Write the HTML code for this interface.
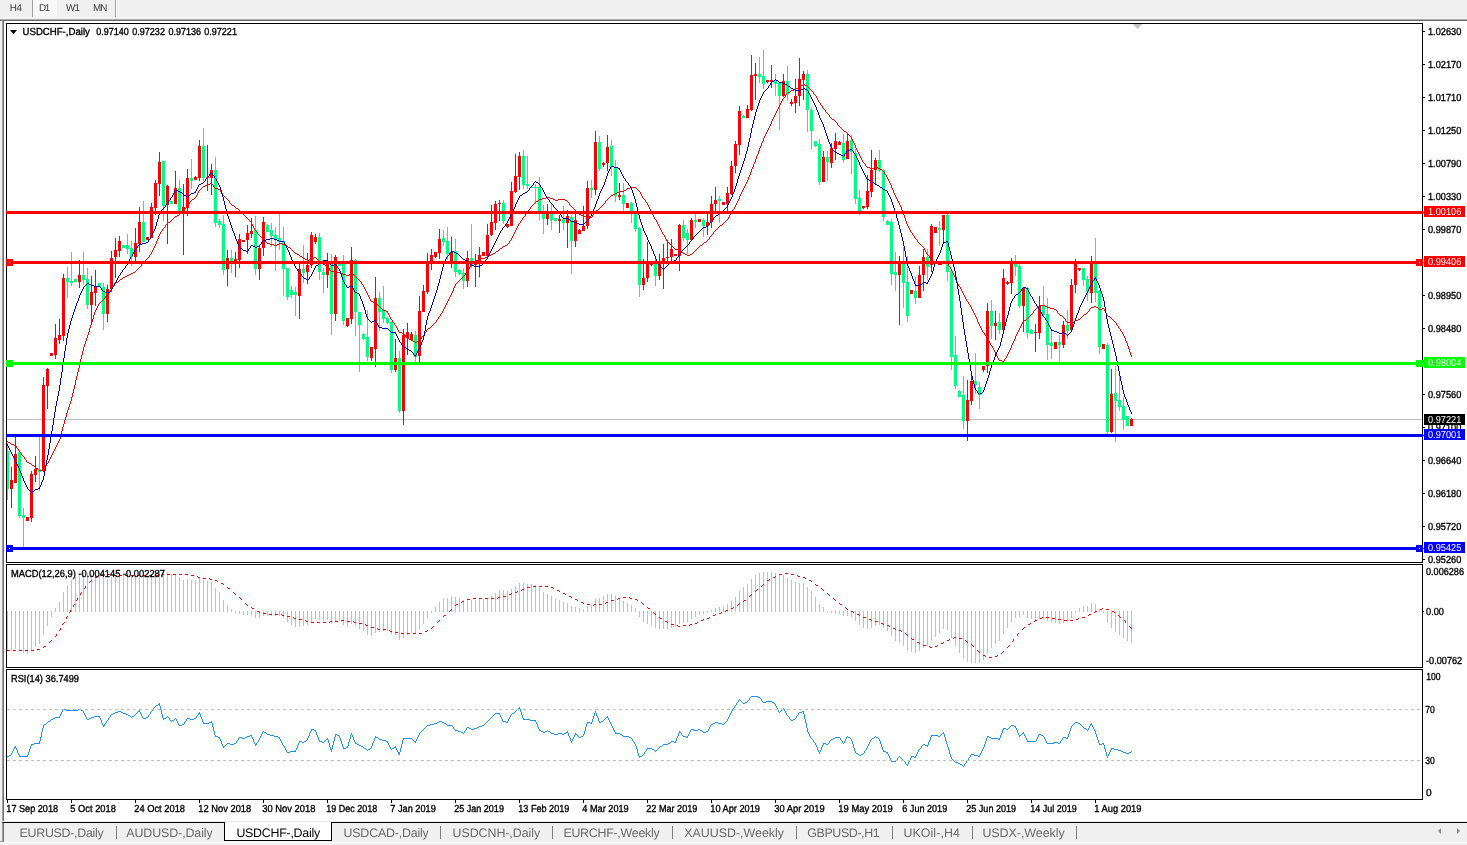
<!DOCTYPE html>
<html lang="en"><head><meta charset="utf-8"><title>USDCHF-,Daily</title>
<style>
html,body{margin:0;padding:0;background:#fff;}
body{width:1467px;height:845px;overflow:hidden;position:relative;font-family:"Liberation Sans","DejaVu Sans",sans-serif;}
#toolbar{position:absolute;left:0;top:0;width:1467px;height:18px;background:#f0f0f0;}
#toolbar .tf{position:absolute;top:1px;height:18px;line-height:15px;font-size:9.9px;color:#3c3c3c;white-space:nowrap;}
#toolbar .sel{position:absolute;left:33px;top:0;width:24px;height:17px;background:#f8f8f8;}
#toolbar .sep{position:absolute;top:0;width:1px;height:17px;background:#a0a0a0;}
#chart{position:absolute;left:0;top:0;width:1467px;height:845px;}
#tabs{position:absolute;left:0;top:823px;width:1467px;height:22px;background:#f0f0f0;}
#tabs .tab{position:absolute;top:1px;height:19px;line-height:19px;font-size:12.4px;color:#6a6a6a;white-space:nowrap;}
#tabs .tab.active{color:#000;background:#fff;border:1px solid #000;border-top:none;box-sizing:border-box;top:-1px;height:19px;}
#tabs .bar{position:absolute;top:3px;width:1px;height:13px;background:#808080;}
svg text{font-family:"Liberation Sans","DejaVu Sans",sans-serif;text-rendering:geometricPrecision;}
#toolbar .tf,#tabs .tab{text-rendering:geometricPrecision;}
</style></head><body>
<svg id="chart" width="1467" height="845" viewBox="0 0 1467 845">
<g shape-rendering="crispEdges">
<rect x="0" y="18" width="1467" height="1" fill="#f6f6f6"/>
<rect x="0" y="19" width="1467" height="1" fill="#a8a8a8"/>
<rect x="0" y="20" width="1467" height="1" fill="#6e6e6e"/>
<rect x="0" y="21" width="2" height="801" fill="#f0f0f0"/>
<rect x="2" y="20" width="1" height="801" fill="#a0a0a0"/>
<rect x="3" y="20" width="1" height="801" fill="#707070"/>
<rect x="0" y="821" width="1467" height="1" fill="#e8e8e8"/>
<rect x="2" y="822" width="1465" height="1" fill="#000"/>
</g>
<g shape-rendering="crispEdges">
<rect x="7" y="419" width="1415" height="1" fill="#c0c0c0"/>
</g>
<g shape-rendering="crispEdges">
<rect x="7" y="443" width="1" height="57" fill="#00ff7f"/>
<rect x="6" y="451" width="3" height="38" fill="#00ff7f"/>
<rect x="11" y="467" width="1" height="41" fill="#ff0000"/>
<rect x="10" y="480" width="3" height="9" fill="#ff0000"/>
<rect x="15" y="437" width="1" height="46" fill="#ff0000"/>
<rect x="14" y="454" width="3" height="29" fill="#ff0000"/>
<rect x="19" y="450" width="1" height="68" fill="#00ff7f"/>
<rect x="18" y="452" width="3" height="64" fill="#00ff7f"/>
<rect x="23" y="508" width="1" height="39" fill="#00ff7f"/>
<rect x="22" y="515" width="3" height="3" fill="#00ff7f"/>
<rect x="27" y="517" width="1" height="4" fill="#ff0000"/>
<rect x="26" y="517" width="3" height="4" fill="#ff0000"/>
<rect x="31" y="471" width="1" height="51" fill="#ff0000"/>
<rect x="30" y="474" width="3" height="44" fill="#ff0000"/>
<rect x="35" y="456" width="1" height="26" fill="#ff0000"/>
<rect x="34" y="469" width="3" height="6" fill="#ff0000"/>
<rect x="39" y="437" width="1" height="54" fill="#00ff7f"/>
<rect x="38" y="469" width="3" height="3" fill="#00ff7f"/>
<rect x="43" y="377" width="1" height="95" fill="#ff0000"/>
<rect x="42" y="385" width="3" height="86" fill="#ff0000"/>
<rect x="47" y="368" width="1" height="41" fill="#ff0000"/>
<rect x="46" y="369" width="3" height="17" fill="#ff0000"/>
<rect x="51" y="353" width="1" height="3" fill="#ff0000"/>
<rect x="50" y="353" width="3" height="3" fill="#ff0000"/>
<rect x="55" y="324" width="1" height="35" fill="#ff0000"/>
<rect x="54" y="338" width="3" height="17" fill="#ff0000"/>
<rect x="59" y="319" width="1" height="25" fill="#ff0000"/>
<rect x="58" y="335" width="3" height="5" fill="#ff0000"/>
<rect x="63" y="274" width="1" height="67" fill="#ff0000"/>
<rect x="62" y="278" width="3" height="58" fill="#ff0000"/>
<rect x="67" y="267" width="1" height="31" fill="#00ff7f"/>
<rect x="66" y="278" width="3" height="4" fill="#00ff7f"/>
<rect x="71" y="252" width="1" height="34" fill="#00ff7f"/>
<rect x="70" y="281" width="3" height="2" fill="#00ff7f"/>
<rect x="75" y="279" width="1" height="3" fill="#00ff7f"/>
<rect x="74" y="279" width="3" height="3" fill="#00ff7f"/>
<rect x="79" y="260" width="1" height="28" fill="#ff0000"/>
<rect x="78" y="275" width="3" height="7" fill="#ff0000"/>
<rect x="83" y="252" width="1" height="33" fill="#00ff7f"/>
<rect x="82" y="275" width="3" height="5" fill="#00ff7f"/>
<rect x="87" y="268" width="1" height="41" fill="#00ff7f"/>
<rect x="86" y="279" width="3" height="26" fill="#00ff7f"/>
<rect x="91" y="276" width="1" height="47" fill="#ff0000"/>
<rect x="90" y="292" width="3" height="13" fill="#ff0000"/>
<rect x="95" y="270" width="1" height="36" fill="#ff0000"/>
<rect x="94" y="287" width="3" height="6" fill="#ff0000"/>
<rect x="99" y="283" width="1" height="4" fill="#00ff7f"/>
<rect x="98" y="283" width="3" height="4" fill="#00ff7f"/>
<rect x="103" y="283" width="1" height="47" fill="#00ff7f"/>
<rect x="102" y="287" width="3" height="27" fill="#00ff7f"/>
<rect x="107" y="285" width="1" height="37" fill="#ff0000"/>
<rect x="106" y="289" width="3" height="25" fill="#ff0000"/>
<rect x="111" y="251" width="1" height="41" fill="#ff0000"/>
<rect x="110" y="258" width="3" height="31" fill="#ff0000"/>
<rect x="115" y="238" width="1" height="40" fill="#ff0000"/>
<rect x="114" y="250" width="3" height="7" fill="#ff0000"/>
<rect x="119" y="236" width="1" height="21" fill="#ff0000"/>
<rect x="118" y="241" width="3" height="10" fill="#ff0000"/>
<rect x="123" y="245" width="1" height="3" fill="#00ff7f"/>
<rect x="122" y="245" width="3" height="3" fill="#00ff7f"/>
<rect x="127" y="234" width="1" height="20" fill="#00ff7f"/>
<rect x="126" y="245" width="3" height="4" fill="#00ff7f"/>
<rect x="131" y="241" width="1" height="25" fill="#00ff7f"/>
<rect x="130" y="248" width="3" height="9" fill="#00ff7f"/>
<rect x="135" y="228" width="1" height="33" fill="#ff0000"/>
<rect x="134" y="243" width="3" height="14" fill="#ff0000"/>
<rect x="139" y="207" width="1" height="45" fill="#ff0000"/>
<rect x="138" y="222" width="3" height="22" fill="#ff0000"/>
<rect x="143" y="201" width="1" height="41" fill="#00ff7f"/>
<rect x="142" y="222" width="3" height="20" fill="#00ff7f"/>
<rect x="147" y="237" width="1" height="3" fill="#ff0000"/>
<rect x="146" y="237" width="3" height="3" fill="#ff0000"/>
<rect x="151" y="203" width="1" height="35" fill="#ff0000"/>
<rect x="150" y="207" width="3" height="31" fill="#ff0000"/>
<rect x="155" y="180" width="1" height="35" fill="#ff0000"/>
<rect x="154" y="183" width="3" height="25" fill="#ff0000"/>
<rect x="159" y="152" width="1" height="44" fill="#ff0000"/>
<rect x="158" y="162" width="3" height="22" fill="#ff0000"/>
<rect x="163" y="161" width="1" height="60" fill="#00ff7f"/>
<rect x="162" y="161" width="3" height="45" fill="#00ff7f"/>
<rect x="167" y="185" width="1" height="59" fill="#ff0000"/>
<rect x="166" y="186" width="3" height="19" fill="#ff0000"/>
<rect x="171" y="201" width="1" height="3" fill="#00ff7f"/>
<rect x="170" y="201" width="3" height="3" fill="#00ff7f"/>
<rect x="175" y="171" width="1" height="33" fill="#ff0000"/>
<rect x="174" y="188" width="3" height="16" fill="#ff0000"/>
<rect x="179" y="180" width="1" height="34" fill="#00ff7f"/>
<rect x="178" y="188" width="3" height="24" fill="#00ff7f"/>
<rect x="183" y="184" width="1" height="71" fill="#ff0000"/>
<rect x="182" y="207" width="3" height="5" fill="#ff0000"/>
<rect x="187" y="169" width="1" height="47" fill="#ff0000"/>
<rect x="186" y="178" width="3" height="30" fill="#ff0000"/>
<rect x="191" y="159" width="1" height="30" fill="#00ff7f"/>
<rect x="190" y="178" width="3" height="3" fill="#00ff7f"/>
<rect x="195" y="176" width="1" height="4" fill="#ff0000"/>
<rect x="194" y="177" width="3" height="3" fill="#ff0000"/>
<rect x="199" y="140" width="1" height="41" fill="#ff0000"/>
<rect x="198" y="146" width="3" height="32" fill="#ff0000"/>
<rect x="203" y="128" width="1" height="53" fill="#00ff7f"/>
<rect x="202" y="146" width="3" height="32" fill="#00ff7f"/>
<rect x="207" y="145" width="1" height="46" fill="#ff0000"/>
<rect x="206" y="177" width="3" height="1" fill="#ff0000"/>
<rect x="211" y="164" width="1" height="31" fill="#ff0000"/>
<rect x="210" y="170" width="3" height="8" fill="#ff0000"/>
<rect x="215" y="157" width="1" height="70" fill="#00ff7f"/>
<rect x="214" y="170" width="3" height="53" fill="#00ff7f"/>
<rect x="219" y="219" width="1" height="9" fill="#00ff7f"/>
<rect x="218" y="221" width="3" height="4" fill="#00ff7f"/>
<rect x="223" y="215" width="1" height="60" fill="#00ff7f"/>
<rect x="222" y="224" width="3" height="46" fill="#00ff7f"/>
<rect x="227" y="250" width="1" height="36" fill="#ff0000"/>
<rect x="226" y="258" width="3" height="11" fill="#ff0000"/>
<rect x="231" y="250" width="1" height="23" fill="#00ff7f"/>
<rect x="230" y="258" width="3" height="3" fill="#00ff7f"/>
<rect x="235" y="252" width="1" height="25" fill="#ff0000"/>
<rect x="234" y="259" width="3" height="3" fill="#ff0000"/>
<rect x="239" y="234" width="1" height="34" fill="#ff0000"/>
<rect x="238" y="239" width="3" height="21" fill="#ff0000"/>
<rect x="243" y="240" width="1" height="2" fill="#ff0000"/>
<rect x="242" y="240" width="3" height="2" fill="#ff0000"/>
<rect x="247" y="225" width="1" height="29" fill="#ff0000"/>
<rect x="246" y="233" width="3" height="7" fill="#ff0000"/>
<rect x="251" y="218" width="1" height="20" fill="#ff0000"/>
<rect x="250" y="231" width="3" height="3" fill="#ff0000"/>
<rect x="255" y="216" width="1" height="59" fill="#00ff7f"/>
<rect x="254" y="230" width="3" height="39" fill="#00ff7f"/>
<rect x="259" y="246" width="1" height="34" fill="#ff0000"/>
<rect x="258" y="248" width="3" height="21" fill="#ff0000"/>
<rect x="263" y="217" width="1" height="39" fill="#ff0000"/>
<rect x="262" y="222" width="3" height="26" fill="#ff0000"/>
<rect x="267" y="224" width="1" height="8" fill="#00ff7f"/>
<rect x="266" y="225" width="3" height="7" fill="#00ff7f"/>
<rect x="271" y="223" width="1" height="24" fill="#00ff7f"/>
<rect x="270" y="230" width="3" height="6" fill="#00ff7f"/>
<rect x="275" y="227" width="1" height="44" fill="#00ff7f"/>
<rect x="274" y="235" width="3" height="5" fill="#00ff7f"/>
<rect x="279" y="214" width="1" height="36" fill="#00ff7f"/>
<rect x="278" y="238" width="3" height="4" fill="#00ff7f"/>
<rect x="283" y="227" width="1" height="69" fill="#00ff7f"/>
<rect x="282" y="241" width="3" height="28" fill="#00ff7f"/>
<rect x="287" y="268" width="1" height="32" fill="#00ff7f"/>
<rect x="286" y="268" width="3" height="29" fill="#00ff7f"/>
<rect x="291" y="286" width="1" height="12" fill="#00ff7f"/>
<rect x="290" y="290" width="3" height="5" fill="#00ff7f"/>
<rect x="295" y="287" width="1" height="29" fill="#00ff7f"/>
<rect x="294" y="292" width="3" height="3" fill="#00ff7f"/>
<rect x="299" y="264" width="1" height="55" fill="#ff0000"/>
<rect x="298" y="269" width="3" height="27" fill="#ff0000"/>
<rect x="303" y="245" width="1" height="38" fill="#00ff7f"/>
<rect x="302" y="269" width="3" height="4" fill="#00ff7f"/>
<rect x="307" y="253" width="1" height="31" fill="#ff0000"/>
<rect x="306" y="265" width="3" height="7" fill="#ff0000"/>
<rect x="311" y="232" width="1" height="36" fill="#ff0000"/>
<rect x="310" y="235" width="3" height="30" fill="#ff0000"/>
<rect x="315" y="234" width="1" height="10" fill="#ff0000"/>
<rect x="314" y="237" width="3" height="5" fill="#ff0000"/>
<rect x="319" y="233" width="1" height="47" fill="#00ff7f"/>
<rect x="318" y="237" width="3" height="35" fill="#00ff7f"/>
<rect x="323" y="268" width="1" height="25" fill="#00ff7f"/>
<rect x="322" y="272" width="3" height="3" fill="#00ff7f"/>
<rect x="327" y="253" width="1" height="35" fill="#ff0000"/>
<rect x="326" y="263" width="3" height="12" fill="#ff0000"/>
<rect x="331" y="254" width="1" height="81" fill="#00ff7f"/>
<rect x="330" y="263" width="3" height="51" fill="#00ff7f"/>
<rect x="335" y="255" width="1" height="66" fill="#ff0000"/>
<rect x="334" y="257" width="3" height="57" fill="#ff0000"/>
<rect x="339" y="262" width="1" height="4" fill="#00ff7f"/>
<rect x="338" y="263" width="3" height="3" fill="#00ff7f"/>
<rect x="343" y="255" width="1" height="70" fill="#00ff7f"/>
<rect x="342" y="263" width="3" height="58" fill="#00ff7f"/>
<rect x="347" y="318" width="1" height="9" fill="#ff0000"/>
<rect x="346" y="318" width="3" height="8" fill="#ff0000"/>
<rect x="351" y="247" width="1" height="77" fill="#ff0000"/>
<rect x="350" y="260" width="3" height="59" fill="#ff0000"/>
<rect x="355" y="259" width="1" height="77" fill="#00ff7f"/>
<rect x="354" y="260" width="3" height="52" fill="#00ff7f"/>
<rect x="359" y="312" width="1" height="60" fill="#00ff7f"/>
<rect x="358" y="312" width="3" height="13" fill="#00ff7f"/>
<rect x="363" y="333" width="1" height="7" fill="#00ff7f"/>
<rect x="362" y="334" width="3" height="5" fill="#00ff7f"/>
<rect x="367" y="310" width="1" height="51" fill="#00ff7f"/>
<rect x="366" y="337" width="3" height="20" fill="#00ff7f"/>
<rect x="371" y="347" width="1" height="14" fill="#ff0000"/>
<rect x="370" y="347" width="3" height="11" fill="#ff0000"/>
<rect x="375" y="277" width="1" height="90" fill="#ff0000"/>
<rect x="374" y="298" width="3" height="51" fill="#ff0000"/>
<rect x="379" y="292" width="1" height="39" fill="#00ff7f"/>
<rect x="378" y="298" width="3" height="14" fill="#00ff7f"/>
<rect x="383" y="286" width="1" height="37" fill="#00ff7f"/>
<rect x="382" y="310" width="3" height="9" fill="#00ff7f"/>
<rect x="387" y="317" width="1" height="7" fill="#00ff7f"/>
<rect x="386" y="318" width="3" height="5" fill="#00ff7f"/>
<rect x="391" y="321" width="1" height="52" fill="#00ff7f"/>
<rect x="390" y="322" width="3" height="48" fill="#00ff7f"/>
<rect x="395" y="339" width="1" height="33" fill="#ff0000"/>
<rect x="394" y="358" width="3" height="12" fill="#ff0000"/>
<rect x="399" y="351" width="1" height="62" fill="#00ff7f"/>
<rect x="398" y="358" width="3" height="53" fill="#00ff7f"/>
<rect x="403" y="329" width="1" height="96" fill="#ff0000"/>
<rect x="402" y="335" width="3" height="76" fill="#ff0000"/>
<rect x="407" y="323" width="1" height="32" fill="#ff0000"/>
<rect x="406" y="332" width="3" height="6" fill="#ff0000"/>
<rect x="411" y="332" width="1" height="8" fill="#ff0000"/>
<rect x="410" y="334" width="3" height="6" fill="#ff0000"/>
<rect x="415" y="331" width="1" height="31" fill="#00ff7f"/>
<rect x="414" y="335" width="3" height="22" fill="#00ff7f"/>
<rect x="419" y="296" width="1" height="66" fill="#ff0000"/>
<rect x="418" y="311" width="3" height="45" fill="#ff0000"/>
<rect x="423" y="285" width="1" height="27" fill="#ff0000"/>
<rect x="422" y="291" width="3" height="21" fill="#ff0000"/>
<rect x="427" y="253" width="1" height="41" fill="#ff0000"/>
<rect x="426" y="262" width="3" height="30" fill="#ff0000"/>
<rect x="431" y="249" width="1" height="21" fill="#ff0000"/>
<rect x="430" y="255" width="3" height="7" fill="#ff0000"/>
<rect x="435" y="252" width="1" height="6" fill="#ff0000"/>
<rect x="434" y="252" width="3" height="5" fill="#ff0000"/>
<rect x="439" y="229" width="1" height="30" fill="#ff0000"/>
<rect x="438" y="239" width="3" height="14" fill="#ff0000"/>
<rect x="443" y="230" width="1" height="16" fill="#00ff7f"/>
<rect x="442" y="238" width="3" height="4" fill="#00ff7f"/>
<rect x="447" y="227" width="1" height="33" fill="#00ff7f"/>
<rect x="446" y="241" width="3" height="13" fill="#00ff7f"/>
<rect x="451" y="237" width="1" height="31" fill="#ff0000"/>
<rect x="450" y="252" width="3" height="10" fill="#ff0000"/>
<rect x="455" y="239" width="1" height="38" fill="#00ff7f"/>
<rect x="454" y="251" width="3" height="21" fill="#00ff7f"/>
<rect x="459" y="269" width="1" height="6" fill="#00ff7f"/>
<rect x="458" y="270" width="3" height="4" fill="#00ff7f"/>
<rect x="463" y="268" width="1" height="21" fill="#00ff7f"/>
<rect x="462" y="273" width="3" height="8" fill="#00ff7f"/>
<rect x="467" y="251" width="1" height="36" fill="#ff0000"/>
<rect x="466" y="258" width="3" height="23" fill="#ff0000"/>
<rect x="471" y="224" width="1" height="44" fill="#00ff7f"/>
<rect x="470" y="258" width="3" height="7" fill="#00ff7f"/>
<rect x="475" y="254" width="1" height="33" fill="#ff0000"/>
<rect x="474" y="262" width="3" height="3" fill="#ff0000"/>
<rect x="479" y="247" width="1" height="30" fill="#ff0000"/>
<rect x="478" y="255" width="3" height="8" fill="#ff0000"/>
<rect x="483" y="252" width="1" height="4" fill="#ff0000"/>
<rect x="482" y="252" width="3" height="4" fill="#ff0000"/>
<rect x="487" y="224" width="1" height="33" fill="#ff0000"/>
<rect x="486" y="235" width="3" height="21" fill="#ff0000"/>
<rect x="491" y="205" width="1" height="31" fill="#ff0000"/>
<rect x="490" y="222" width="3" height="13" fill="#ff0000"/>
<rect x="495" y="201" width="1" height="29" fill="#ff0000"/>
<rect x="494" y="204" width="3" height="19" fill="#ff0000"/>
<rect x="499" y="200" width="1" height="21" fill="#ff0000"/>
<rect x="498" y="203" width="3" height="1" fill="#ff0000"/>
<rect x="503" y="200" width="1" height="24" fill="#00ff7f"/>
<rect x="502" y="203" width="3" height="18" fill="#00ff7f"/>
<rect x="507" y="224" width="1" height="4" fill="#ff0000"/>
<rect x="506" y="224" width="3" height="3" fill="#ff0000"/>
<rect x="511" y="182" width="1" height="44" fill="#ff0000"/>
<rect x="510" y="191" width="3" height="35" fill="#ff0000"/>
<rect x="515" y="154" width="1" height="39" fill="#ff0000"/>
<rect x="514" y="176" width="3" height="16" fill="#ff0000"/>
<rect x="519" y="152" width="1" height="38" fill="#ff0000"/>
<rect x="518" y="156" width="3" height="21" fill="#ff0000"/>
<rect x="523" y="150" width="1" height="39" fill="#00ff7f"/>
<rect x="522" y="156" width="3" height="29" fill="#00ff7f"/>
<rect x="527" y="156" width="1" height="33" fill="#00ff7f"/>
<rect x="526" y="184" width="3" height="2" fill="#00ff7f"/>
<rect x="531" y="187" width="1" height="1" fill="#00ff7f"/>
<rect x="530" y="187" width="3" height="1" fill="#00ff7f"/>
<rect x="535" y="184" width="1" height="20" fill="#00ff7f"/>
<rect x="534" y="187" width="3" height="1" fill="#00ff7f"/>
<rect x="539" y="177" width="1" height="43" fill="#00ff7f"/>
<rect x="538" y="187" width="3" height="26" fill="#00ff7f"/>
<rect x="543" y="205" width="1" height="29" fill="#00ff7f"/>
<rect x="542" y="213" width="3" height="6" fill="#00ff7f"/>
<rect x="547" y="204" width="1" height="21" fill="#ff0000"/>
<rect x="546" y="213" width="3" height="6" fill="#ff0000"/>
<rect x="551" y="203" width="1" height="27" fill="#00ff7f"/>
<rect x="550" y="214" width="3" height="6" fill="#00ff7f"/>
<rect x="555" y="218" width="1" height="4" fill="#00ff7f"/>
<rect x="554" y="218" width="3" height="3" fill="#00ff7f"/>
<rect x="559" y="215" width="1" height="18" fill="#ff0000"/>
<rect x="558" y="219" width="3" height="2" fill="#ff0000"/>
<rect x="563" y="206" width="1" height="24" fill="#00ff7f"/>
<rect x="562" y="219" width="3" height="4" fill="#00ff7f"/>
<rect x="567" y="210" width="1" height="38" fill="#ff0000"/>
<rect x="566" y="216" width="3" height="7" fill="#ff0000"/>
<rect x="571" y="215" width="1" height="59" fill="#00ff7f"/>
<rect x="570" y="217" width="3" height="24" fill="#00ff7f"/>
<rect x="575" y="214" width="1" height="33" fill="#ff0000"/>
<rect x="574" y="220" width="3" height="21" fill="#ff0000"/>
<rect x="579" y="229" width="1" height="5" fill="#ff0000"/>
<rect x="578" y="230" width="3" height="4" fill="#ff0000"/>
<rect x="583" y="206" width="1" height="25" fill="#ff0000"/>
<rect x="582" y="226" width="3" height="5" fill="#ff0000"/>
<rect x="587" y="181" width="1" height="48" fill="#ff0000"/>
<rect x="586" y="188" width="3" height="38" fill="#ff0000"/>
<rect x="591" y="180" width="1" height="18" fill="#00ff7f"/>
<rect x="590" y="188" width="3" height="2" fill="#00ff7f"/>
<rect x="595" y="131" width="1" height="64" fill="#ff0000"/>
<rect x="594" y="142" width="3" height="48" fill="#ff0000"/>
<rect x="599" y="136" width="1" height="35" fill="#00ff7f"/>
<rect x="598" y="142" width="3" height="27" fill="#00ff7f"/>
<rect x="603" y="162" width="1" height="5" fill="#ff0000"/>
<rect x="602" y="163" width="3" height="2" fill="#ff0000"/>
<rect x="607" y="135" width="1" height="36" fill="#ff0000"/>
<rect x="606" y="147" width="3" height="16" fill="#ff0000"/>
<rect x="611" y="140" width="1" height="36" fill="#00ff7f"/>
<rect x="610" y="146" width="3" height="21" fill="#00ff7f"/>
<rect x="615" y="160" width="1" height="42" fill="#00ff7f"/>
<rect x="614" y="167" width="3" height="29" fill="#00ff7f"/>
<rect x="619" y="183" width="1" height="17" fill="#ff0000"/>
<rect x="618" y="195" width="3" height="2" fill="#ff0000"/>
<rect x="623" y="183" width="1" height="28" fill="#00ff7f"/>
<rect x="622" y="195" width="3" height="9" fill="#00ff7f"/>
<rect x="627" y="203" width="1" height="5" fill="#ff0000"/>
<rect x="626" y="203" width="3" height="5" fill="#ff0000"/>
<rect x="631" y="202" width="1" height="21" fill="#00ff7f"/>
<rect x="630" y="203" width="3" height="8" fill="#00ff7f"/>
<rect x="635" y="212" width="1" height="20" fill="#00ff7f"/>
<rect x="634" y="213" width="3" height="16" fill="#00ff7f"/>
<rect x="639" y="227" width="1" height="70" fill="#00ff7f"/>
<rect x="638" y="228" width="3" height="57" fill="#00ff7f"/>
<rect x="643" y="259" width="1" height="31" fill="#ff0000"/>
<rect x="642" y="278" width="3" height="7" fill="#ff0000"/>
<rect x="647" y="242" width="1" height="40" fill="#ff0000"/>
<rect x="646" y="261" width="3" height="17" fill="#ff0000"/>
<rect x="651" y="262" width="1" height="4" fill="#ff0000"/>
<rect x="650" y="263" width="3" height="2" fill="#ff0000"/>
<rect x="655" y="257" width="1" height="29" fill="#00ff7f"/>
<rect x="654" y="263" width="3" height="13" fill="#00ff7f"/>
<rect x="659" y="254" width="1" height="26" fill="#ff0000"/>
<rect x="658" y="264" width="3" height="12" fill="#ff0000"/>
<rect x="663" y="244" width="1" height="45" fill="#ff0000"/>
<rect x="662" y="258" width="3" height="6" fill="#ff0000"/>
<rect x="667" y="240" width="1" height="21" fill="#ff0000"/>
<rect x="666" y="257" width="3" height="1" fill="#ff0000"/>
<rect x="671" y="239" width="1" height="23" fill="#ff0000"/>
<rect x="670" y="249" width="3" height="8" fill="#ff0000"/>
<rect x="675" y="254" width="1" height="2" fill="#ff0000"/>
<rect x="674" y="254" width="3" height="2" fill="#ff0000"/>
<rect x="679" y="224" width="1" height="47" fill="#ff0000"/>
<rect x="678" y="225" width="3" height="31" fill="#ff0000"/>
<rect x="683" y="220" width="1" height="21" fill="#00ff7f"/>
<rect x="682" y="225" width="3" height="13" fill="#00ff7f"/>
<rect x="687" y="229" width="1" height="25" fill="#00ff7f"/>
<rect x="686" y="233" width="3" height="7" fill="#00ff7f"/>
<rect x="691" y="218" width="1" height="22" fill="#ff0000"/>
<rect x="690" y="220" width="3" height="20" fill="#ff0000"/>
<rect x="695" y="214" width="1" height="14" fill="#00ff7f"/>
<rect x="694" y="220" width="3" height="2" fill="#00ff7f"/>
<rect x="699" y="219" width="1" height="3" fill="#ff0000"/>
<rect x="698" y="219" width="3" height="3" fill="#ff0000"/>
<rect x="703" y="218" width="1" height="19" fill="#00ff7f"/>
<rect x="702" y="220" width="3" height="6" fill="#00ff7f"/>
<rect x="707" y="214" width="1" height="21" fill="#ff0000"/>
<rect x="706" y="222" width="3" height="4" fill="#ff0000"/>
<rect x="711" y="196" width="1" height="32" fill="#ff0000"/>
<rect x="710" y="204" width="3" height="18" fill="#ff0000"/>
<rect x="715" y="187" width="1" height="24" fill="#ff0000"/>
<rect x="714" y="200" width="3" height="4" fill="#ff0000"/>
<rect x="719" y="196" width="1" height="27" fill="#00ff7f"/>
<rect x="718" y="199" width="3" height="2" fill="#00ff7f"/>
<rect x="723" y="202" width="1" height="3" fill="#ff0000"/>
<rect x="722" y="202" width="3" height="3" fill="#ff0000"/>
<rect x="727" y="187" width="1" height="24" fill="#ff0000"/>
<rect x="726" y="193" width="3" height="11" fill="#ff0000"/>
<rect x="731" y="161" width="1" height="34" fill="#ff0000"/>
<rect x="730" y="166" width="3" height="28" fill="#ff0000"/>
<rect x="735" y="141" width="1" height="32" fill="#ff0000"/>
<rect x="734" y="144" width="3" height="22" fill="#ff0000"/>
<rect x="739" y="106" width="1" height="49" fill="#ff0000"/>
<rect x="738" y="111" width="3" height="34" fill="#ff0000"/>
<rect x="743" y="115" width="1" height="3" fill="#00ff7f"/>
<rect x="742" y="116" width="3" height="2" fill="#00ff7f"/>
<rect x="747" y="105" width="1" height="13" fill="#ff0000"/>
<rect x="746" y="109" width="3" height="9" fill="#ff0000"/>
<rect x="751" y="55" width="1" height="56" fill="#ff0000"/>
<rect x="750" y="75" width="3" height="35" fill="#ff0000"/>
<rect x="755" y="63" width="1" height="37" fill="#ff0000"/>
<rect x="754" y="74" width="3" height="2" fill="#ff0000"/>
<rect x="759" y="57" width="1" height="26" fill="#00ff7f"/>
<rect x="758" y="74" width="3" height="3" fill="#00ff7f"/>
<rect x="763" y="50" width="1" height="39" fill="#00ff7f"/>
<rect x="762" y="76" width="3" height="8" fill="#00ff7f"/>
<rect x="767" y="80" width="1" height="3" fill="#ff0000"/>
<rect x="766" y="80" width="3" height="2" fill="#ff0000"/>
<rect x="771" y="65" width="1" height="23" fill="#ff0000"/>
<rect x="770" y="80" width="3" height="2" fill="#ff0000"/>
<rect x="775" y="74" width="1" height="22" fill="#00ff7f"/>
<rect x="774" y="80" width="3" height="4" fill="#00ff7f"/>
<rect x="779" y="82" width="1" height="48" fill="#00ff7f"/>
<rect x="778" y="83" width="3" height="13" fill="#00ff7f"/>
<rect x="783" y="74" width="1" height="23" fill="#ff0000"/>
<rect x="782" y="81" width="3" height="15" fill="#ff0000"/>
<rect x="787" y="66" width="1" height="35" fill="#00ff7f"/>
<rect x="786" y="81" width="3" height="13" fill="#00ff7f"/>
<rect x="791" y="99" width="1" height="7" fill="#ff0000"/>
<rect x="790" y="102" width="3" height="2" fill="#ff0000"/>
<rect x="795" y="79" width="1" height="34" fill="#ff0000"/>
<rect x="794" y="96" width="3" height="7" fill="#ff0000"/>
<rect x="799" y="58" width="1" height="48" fill="#ff0000"/>
<rect x="798" y="79" width="3" height="17" fill="#ff0000"/>
<rect x="803" y="71" width="1" height="29" fill="#ff0000"/>
<rect x="802" y="74" width="3" height="6" fill="#ff0000"/>
<rect x="807" y="70" width="1" height="62" fill="#00ff7f"/>
<rect x="806" y="74" width="3" height="36" fill="#00ff7f"/>
<rect x="811" y="107" width="1" height="42" fill="#00ff7f"/>
<rect x="810" y="110" width="3" height="21" fill="#00ff7f"/>
<rect x="815" y="141" width="1" height="6" fill="#00ff7f"/>
<rect x="814" y="141" width="3" height="5" fill="#00ff7f"/>
<rect x="819" y="139" width="1" height="46" fill="#00ff7f"/>
<rect x="818" y="144" width="3" height="38" fill="#00ff7f"/>
<rect x="823" y="151" width="1" height="31" fill="#ff0000"/>
<rect x="822" y="157" width="3" height="25" fill="#ff0000"/>
<rect x="827" y="151" width="1" height="30" fill="#00ff7f"/>
<rect x="826" y="157" width="3" height="5" fill="#00ff7f"/>
<rect x="831" y="143" width="1" height="25" fill="#ff0000"/>
<rect x="830" y="148" width="3" height="15" fill="#ff0000"/>
<rect x="835" y="133" width="1" height="27" fill="#ff0000"/>
<rect x="834" y="141" width="3" height="8" fill="#ff0000"/>
<rect x="839" y="141" width="1" height="4" fill="#ff0000"/>
<rect x="838" y="142" width="3" height="3" fill="#ff0000"/>
<rect x="843" y="134" width="1" height="29" fill="#00ff7f"/>
<rect x="842" y="143" width="3" height="17" fill="#00ff7f"/>
<rect x="847" y="134" width="1" height="25" fill="#ff0000"/>
<rect x="846" y="141" width="3" height="18" fill="#ff0000"/>
<rect x="851" y="135" width="1" height="39" fill="#00ff7f"/>
<rect x="850" y="140" width="3" height="12" fill="#00ff7f"/>
<rect x="855" y="149" width="1" height="55" fill="#00ff7f"/>
<rect x="854" y="153" width="3" height="46" fill="#00ff7f"/>
<rect x="859" y="190" width="1" height="25" fill="#00ff7f"/>
<rect x="858" y="198" width="3" height="13" fill="#00ff7f"/>
<rect x="863" y="206" width="1" height="3" fill="#ff0000"/>
<rect x="862" y="206" width="3" height="2" fill="#ff0000"/>
<rect x="867" y="175" width="1" height="34" fill="#ff0000"/>
<rect x="866" y="191" width="3" height="16" fill="#ff0000"/>
<rect x="871" y="150" width="1" height="47" fill="#ff0000"/>
<rect x="870" y="170" width="3" height="22" fill="#ff0000"/>
<rect x="875" y="158" width="1" height="26" fill="#ff0000"/>
<rect x="874" y="160" width="3" height="10" fill="#ff0000"/>
<rect x="879" y="150" width="1" height="22" fill="#00ff7f"/>
<rect x="878" y="160" width="3" height="11" fill="#00ff7f"/>
<rect x="883" y="169" width="1" height="52" fill="#00ff7f"/>
<rect x="882" y="170" width="3" height="47" fill="#00ff7f"/>
<rect x="887" y="220" width="1" height="5" fill="#00ff7f"/>
<rect x="886" y="221" width="3" height="4" fill="#00ff7f"/>
<rect x="891" y="219" width="1" height="66" fill="#00ff7f"/>
<rect x="890" y="222" width="3" height="52" fill="#00ff7f"/>
<rect x="895" y="252" width="1" height="39" fill="#00ff7f"/>
<rect x="894" y="272" width="3" height="3" fill="#00ff7f"/>
<rect x="899" y="256" width="1" height="69" fill="#ff0000"/>
<rect x="898" y="262" width="3" height="13" fill="#ff0000"/>
<rect x="903" y="247" width="1" height="61" fill="#00ff7f"/>
<rect x="902" y="262" width="3" height="21" fill="#00ff7f"/>
<rect x="907" y="256" width="1" height="66" fill="#00ff7f"/>
<rect x="906" y="282" width="3" height="34" fill="#00ff7f"/>
<rect x="911" y="290" width="1" height="4" fill="#ff0000"/>
<rect x="910" y="290" width="3" height="4" fill="#ff0000"/>
<rect x="915" y="277" width="1" height="27" fill="#00ff7f"/>
<rect x="914" y="291" width="3" height="7" fill="#00ff7f"/>
<rect x="919" y="266" width="1" height="32" fill="#ff0000"/>
<rect x="918" y="275" width="3" height="23" fill="#ff0000"/>
<rect x="923" y="249" width="1" height="42" fill="#ff0000"/>
<rect x="922" y="257" width="3" height="18" fill="#ff0000"/>
<rect x="927" y="249" width="1" height="31" fill="#00ff7f"/>
<rect x="926" y="257" width="3" height="10" fill="#00ff7f"/>
<rect x="931" y="224" width="1" height="48" fill="#ff0000"/>
<rect x="930" y="226" width="3" height="39" fill="#ff0000"/>
<rect x="935" y="227" width="1" height="6" fill="#ff0000"/>
<rect x="934" y="227" width="3" height="6" fill="#ff0000"/>
<rect x="939" y="221" width="1" height="25" fill="#00ff7f"/>
<rect x="938" y="228" width="3" height="2" fill="#00ff7f"/>
<rect x="943" y="215" width="1" height="27" fill="#ff0000"/>
<rect x="942" y="215" width="3" height="15" fill="#ff0000"/>
<rect x="947" y="214" width="1" height="67" fill="#00ff7f"/>
<rect x="946" y="215" width="3" height="57" fill="#00ff7f"/>
<rect x="951" y="270" width="1" height="100" fill="#00ff7f"/>
<rect x="950" y="271" width="3" height="86" fill="#00ff7f"/>
<rect x="955" y="336" width="1" height="53" fill="#00ff7f"/>
<rect x="954" y="355" width="3" height="31" fill="#00ff7f"/>
<rect x="959" y="390" width="1" height="7" fill="#00ff7f"/>
<rect x="958" y="391" width="3" height="6" fill="#00ff7f"/>
<rect x="963" y="376" width="1" height="53" fill="#00ff7f"/>
<rect x="962" y="395" width="3" height="26" fill="#00ff7f"/>
<rect x="967" y="380" width="1" height="61" fill="#ff0000"/>
<rect x="966" y="400" width="3" height="21" fill="#ff0000"/>
<rect x="971" y="376" width="1" height="29" fill="#ff0000"/>
<rect x="970" y="381" width="3" height="20" fill="#ff0000"/>
<rect x="975" y="353" width="1" height="41" fill="#00ff7f"/>
<rect x="974" y="381" width="3" height="4" fill="#00ff7f"/>
<rect x="979" y="382" width="1" height="27" fill="#00ff7f"/>
<rect x="978" y="387" width="3" height="8" fill="#00ff7f"/>
<rect x="983" y="366" width="1" height="6" fill="#ff0000"/>
<rect x="982" y="366" width="3" height="4" fill="#ff0000"/>
<rect x="987" y="303" width="1" height="70" fill="#ff0000"/>
<rect x="986" y="311" width="3" height="55" fill="#ff0000"/>
<rect x="991" y="300" width="1" height="39" fill="#00ff7f"/>
<rect x="990" y="311" width="3" height="15" fill="#00ff7f"/>
<rect x="995" y="311" width="1" height="29" fill="#ff0000"/>
<rect x="994" y="323" width="3" height="3" fill="#ff0000"/>
<rect x="999" y="313" width="1" height="21" fill="#00ff7f"/>
<rect x="998" y="322" width="3" height="8" fill="#00ff7f"/>
<rect x="1003" y="269" width="1" height="61" fill="#ff0000"/>
<rect x="1002" y="278" width="3" height="52" fill="#ff0000"/>
<rect x="1007" y="281" width="1" height="4" fill="#ff0000"/>
<rect x="1006" y="282" width="3" height="2" fill="#ff0000"/>
<rect x="1011" y="258" width="1" height="36" fill="#ff0000"/>
<rect x="1010" y="264" width="3" height="19" fill="#ff0000"/>
<rect x="1015" y="255" width="1" height="21" fill="#00ff7f"/>
<rect x="1014" y="264" width="3" height="3" fill="#00ff7f"/>
<rect x="1019" y="264" width="1" height="44" fill="#00ff7f"/>
<rect x="1018" y="266" width="3" height="40" fill="#00ff7f"/>
<rect x="1023" y="287" width="1" height="45" fill="#ff0000"/>
<rect x="1022" y="288" width="3" height="18" fill="#ff0000"/>
<rect x="1027" y="287" width="1" height="52" fill="#00ff7f"/>
<rect x="1026" y="288" width="3" height="45" fill="#00ff7f"/>
<rect x="1031" y="329" width="1" height="5" fill="#00ff7f"/>
<rect x="1030" y="330" width="3" height="4" fill="#00ff7f"/>
<rect x="1035" y="324" width="1" height="28" fill="#ff0000"/>
<rect x="1034" y="332" width="3" height="1" fill="#ff0000"/>
<rect x="1039" y="296" width="1" height="43" fill="#ff0000"/>
<rect x="1038" y="306" width="3" height="27" fill="#ff0000"/>
<rect x="1043" y="286" width="1" height="30" fill="#00ff7f"/>
<rect x="1042" y="306" width="3" height="9" fill="#00ff7f"/>
<rect x="1047" y="298" width="1" height="62" fill="#00ff7f"/>
<rect x="1046" y="314" width="3" height="31" fill="#00ff7f"/>
<rect x="1051" y="330" width="1" height="29" fill="#00ff7f"/>
<rect x="1050" y="343" width="3" height="3" fill="#00ff7f"/>
<rect x="1055" y="342" width="1" height="7" fill="#ff0000"/>
<rect x="1054" y="342" width="3" height="7" fill="#ff0000"/>
<rect x="1059" y="335" width="1" height="27" fill="#00ff7f"/>
<rect x="1058" y="342" width="3" height="3" fill="#00ff7f"/>
<rect x="1063" y="321" width="1" height="27" fill="#ff0000"/>
<rect x="1062" y="325" width="3" height="20" fill="#ff0000"/>
<rect x="1067" y="310" width="1" height="29" fill="#00ff7f"/>
<rect x="1066" y="325" width="3" height="6" fill="#00ff7f"/>
<rect x="1071" y="279" width="1" height="52" fill="#ff0000"/>
<rect x="1070" y="285" width="3" height="45" fill="#ff0000"/>
<rect x="1075" y="259" width="1" height="34" fill="#ff0000"/>
<rect x="1074" y="263" width="3" height="22" fill="#ff0000"/>
<rect x="1079" y="268" width="1" height="3" fill="#ff0000"/>
<rect x="1078" y="268" width="3" height="2" fill="#ff0000"/>
<rect x="1083" y="268" width="1" height="18" fill="#00ff7f"/>
<rect x="1082" y="268" width="3" height="12" fill="#00ff7f"/>
<rect x="1087" y="276" width="1" height="25" fill="#00ff7f"/>
<rect x="1086" y="279" width="3" height="13" fill="#00ff7f"/>
<rect x="1091" y="256" width="1" height="47" fill="#ff0000"/>
<rect x="1090" y="263" width="3" height="30" fill="#ff0000"/>
<rect x="1095" y="238" width="1" height="64" fill="#00ff7f"/>
<rect x="1094" y="264" width="3" height="29" fill="#00ff7f"/>
<rect x="1099" y="290" width="1" height="64" fill="#00ff7f"/>
<rect x="1098" y="291" width="3" height="56" fill="#00ff7f"/>
<rect x="1103" y="344" width="1" height="5" fill="#ff0000"/>
<rect x="1102" y="344" width="3" height="5" fill="#ff0000"/>
<rect x="1107" y="343" width="1" height="91" fill="#00ff7f"/>
<rect x="1106" y="345" width="3" height="87" fill="#00ff7f"/>
<rect x="1111" y="369" width="1" height="64" fill="#ff0000"/>
<rect x="1110" y="394" width="3" height="38" fill="#ff0000"/>
<rect x="1115" y="366" width="1" height="76" fill="#00ff7f"/>
<rect x="1114" y="393" width="3" height="8" fill="#00ff7f"/>
<rect x="1119" y="376" width="1" height="35" fill="#00ff7f"/>
<rect x="1118" y="400" width="3" height="7" fill="#00ff7f"/>
<rect x="1123" y="397" width="1" height="33" fill="#00ff7f"/>
<rect x="1122" y="406" width="3" height="14" fill="#00ff7f"/>
<rect x="1127" y="416" width="1" height="10" fill="#00ff7f"/>
<rect x="1126" y="416" width="3" height="10" fill="#00ff7f"/>
<rect x="1131" y="418" width="1" height="8" fill="#ff0000"/>
<rect x="1130" y="419" width="3" height="7" fill="#ff0000"/>
</g>
<path d="M7 441h1v1h-1zM8 442h2v1h-2zM10 443h1v1h-1zM11 444h3v1h-3zM14 445h2v1h-2zM16 446h1v2h-1zM17 448h1v1h-1zM18 449h1v2h-1zM19 451h1v1h-1zM20 452h1v1h-1zM21 453h1v2h-1zM22 455h1v1h-1zM23 456h1v1h-1zM24 457h1v2h-1zM25 459h1v1h-1zM26 460h1v2h-1zM27 462h2v1h-2zM29 463h2v1h-2zM31 464h1v1h-1zM32 465h2v1h-2zM34 466h1v1h-1zM35 467h1v1h-1zM36 468h2v1h-2zM38 469h1v1h-1zM39 470h3v1h-3zM42 469h2v1h-2zM44 467h1v2h-1zM45 466h1v1h-1zM46 464h1v2h-1zM47 463h1v1h-1zM48 461h1v2h-1zM49 459h1v2h-1zM50 457h1v2h-1zM51 455h1v2h-1zM52 453h1v2h-1zM53 451h1v2h-1zM54 449h1v2h-1zM55 447h1v2h-1zM56 445h1v2h-1zM57 443h1v2h-1zM58 441h1v2h-1zM59 439h1v2h-1zM60 435h1v4h-1zM61 431h1v4h-1zM62 427h1v4h-1zM63 424h1v3h-1zM64 420h1v4h-1zM65 417h1v3h-1zM66 413h1v4h-1zM67 410h1v3h-1zM68 407h1v3h-1zM69 404h1v3h-1zM70 401h1v3h-1zM71 397h1v4h-1zM72 393h1v4h-1zM73 389h1v4h-1zM74 385h1v4h-1zM75 380h1v5h-1zM76 376h1v4h-1zM77 372h1v4h-1zM78 368h1v4h-1zM79 363h1v5h-1zM80 359h1v4h-1zM81 355h1v4h-1zM82 351h1v4h-1zM83 347h1v4h-1zM84 344h1v3h-1zM85 341h1v3h-1zM86 338h1v3h-1zM87 335h1v3h-1zM88 332h1v3h-1zM89 328h1v4h-1zM90 325h1v3h-1zM91 322h1v3h-1zM92 319h1v3h-1zM93 315h1v4h-1zM94 312h1v3h-1zM95 310h1v2h-1zM96 308h1v2h-1zM97 306h1v2h-1zM98 304h1v2h-1zM99 303h1v1h-1zM100 302h1v1h-1zM101 301h1v1h-1zM102 300h1v1h-1zM103 299h1v1h-1zM104 298h1v1h-1zM105 296h1v2h-1zM106 295h1v1h-1zM107 294h1v1h-1zM108 293h1v1h-1zM109 291h1v2h-1zM110 290h1v1h-1zM111 289h1v1h-1zM112 287h1v2h-1zM113 286h1v1h-1zM114 284h1v2h-1zM115 283h1v1h-1zM116 282h2v1h-2zM118 281h1v1h-1zM119 280h1v1h-1zM120 279h2v1h-2zM122 278h1v1h-1zM123 277h2v1h-2zM125 276h2v1h-2zM127 275h2v1h-2zM129 274h2v1h-2zM131 273h2v1h-2zM133 272h2v1h-2zM135 271h1v1h-1zM136 270h1v1h-1zM137 269h1v1h-1zM138 268h1v1h-1zM139 267h1v1h-1zM140 266h1v1h-1zM141 264h1v2h-1zM142 263h1v1h-1zM143 262h1v1h-1zM144 261h1v1h-1zM145 260h1v1h-1zM146 259h1v1h-1zM147 258h1v1h-1zM148 257h1v1h-1zM149 255h1v2h-1zM150 254h1v1h-1zM151 252h1v2h-1zM152 250h1v2h-1zM153 248h1v2h-1zM154 246h1v2h-1zM155 244h1v2h-1zM156 241h1v3h-1zM157 239h1v2h-1zM158 236h1v3h-1zM159 234h1v2h-1zM160 232h1v2h-1zM161 231h1v1h-1zM162 229h1v2h-1zM163 228h1v1h-1zM164 227h1v1h-1zM165 225h1v2h-1zM166 224h1v1h-1zM167 223h1v1h-1zM168 222h2v1h-2zM170 221h1v1h-1zM171 220h1v1h-1zM172 219h1v1h-1zM173 218h1v1h-1zM174 217h1v1h-1zM175 216h2v1h-2zM177 215h2v1h-2zM179 214h1v1h-1zM180 213h2v1h-2zM182 212h1v1h-1zM183 211h1v1h-1zM184 209h1v2h-1zM185 208h1v1h-1zM186 206h1v2h-1zM187 205h1v1h-1zM188 204h1v1h-1zM189 202h1v2h-1zM190 201h1v1h-1zM191 200h1v1h-1zM192 199h2v1h-2zM194 198h1v1h-1zM195 197h1v1h-1zM196 195h1v2h-1zM197 193h1v2h-1zM198 191h1v2h-1zM199 190h1v1h-1zM200 189h1v1h-1zM201 188h1v1h-1zM202 187h1v1h-1zM203 186h2v1h-2zM205 185h2v1h-2zM207 184h3v1h-3zM210 183h2v1h-2zM212 184h1v1h-1zM213 185h1v2h-1zM214 187h1v1h-1zM215 188h3v1h-3zM218 189h2v1h-2zM220 190h1v2h-1zM221 192h1v1h-1zM222 193h1v2h-1zM223 195h1v1h-1zM224 196h1v1h-1zM225 197h1v1h-1zM226 198h1v1h-1zM227 199h1v1h-1zM228 200h1v1h-1zM229 201h1v2h-1zM230 203h1v1h-1zM231 204h1v1h-1zM232 205h2v1h-2zM234 206h1v1h-1zM235 207h1v1h-1zM236 208h2v1h-2zM238 209h1v1h-1zM239 210h1v1h-1zM240 211h1v1h-1zM241 212h1v1h-1zM242 213h1v1h-1zM243 214h1v1h-1zM244 215h1v1h-1zM245 216h1v1h-1zM246 217h1v1h-1zM247 218h1v1h-1zM248 219h1v1h-1zM249 220h1v1h-1zM250 221h1v1h-1zM251 222h1v2h-1zM252 224h1v2h-1zM253 226h1v2h-1zM254 228h1v2h-1zM255 230h1v1h-1zM256 231h1v1h-1zM257 232h1v2h-1zM258 234h1v1h-1zM259 235h1v1h-1zM260 236h1v1h-1zM261 237h1v1h-1zM262 238h1v1h-1zM263 239h1v1h-1zM264 240h1v1h-1zM265 241h1v1h-1zM266 242h1v1h-1zM267 243h3v1h-3zM270 244h4v1h-4zM274 245h3v1h-3zM277 244h2v1h-2zM279 243h3v1h-3zM282 244h3v1h-3zM285 245h2v1h-2zM287 246h1v1h-1zM288 247h2v1h-2zM290 248h1v1h-1zM291 249h1v1h-1zM292 250h1v1h-1zM293 251h1v1h-1zM294 252h1v1h-1zM295 253h2v1h-2zM297 254h2v1h-2zM299 255h1v1h-1zM300 256h2v1h-2zM302 257h1v1h-1zM303 258h2v1h-2zM305 259h2v1h-2zM307 260h2v1h-2zM309 259h2v1h-2zM311 258h3v1h-3zM314 257h2v1h-2zM316 258h1v1h-1zM317 259h1v1h-1zM318 260h1v1h-1zM319 261h1v1h-1zM320 262h2v1h-2zM322 263h1v1h-1zM323 264h2v1h-2zM325 265h2v1h-2zM327 266h1v1h-1zM328 267h1v1h-1zM329 268h1v2h-1zM330 270h1v1h-1zM331 271h3v1h-3zM334 272h7v1h-7zM341 273h2v1h-2zM343 274h3v1h-3zM346 275h3v1h-3zM349 274h2v1h-2zM351 273h1v1h-1zM352 274h2v1h-2zM354 275h1v1h-1zM355 276h1v1h-1zM356 277h1v1h-1zM357 278h1v1h-1zM358 279h1v1h-1zM359 280h1v1h-1zM360 281h1v1h-1zM361 282h1v2h-1zM362 284h1v1h-1zM363 285h1v2h-1zM364 287h1v2h-1zM365 289h1v2h-1zM366 291h1v2h-1zM367 293h1v2h-1zM368 295h1v2h-1zM369 297h1v2h-1zM370 299h1v2h-1zM371 301h2v1h-2zM373 302h2v1h-2zM375 303h1v1h-1zM376 304h2v1h-2zM378 305h1v1h-1zM379 306h1v1h-1zM380 307h1v1h-1zM381 308h1v1h-1zM382 309h1v1h-1zM383 310h3v1h-3zM386 311h1v1h-1zM387 311h1v2h-1zM388 313h1v2h-1zM389 315h1v2h-1zM390 317h1v2h-1zM391 319h1v1h-1zM392 320h1v2h-1zM393 322h1v1h-1zM394 323h1v2h-1zM395 325h1v1h-1zM396 326h1v2h-1zM397 328h1v2h-1zM398 330h1v2h-1zM399 332h3v1h-3zM402 333h2v1h-2zM404 334h1v1h-1zM405 335h1v2h-1zM406 337h1v1h-1zM407 338h2v1h-2zM409 339h2v1h-2zM411 340h2v1h-2zM413 341h2v1h-2zM415 342h2v1h-2zM417 341h2v1h-2zM419 340h1v1h-1zM420 339h1v1h-1zM421 337h1v2h-1zM422 336h1v1h-1zM423 335h1v1h-1zM424 333h1v2h-1zM425 332h1v1h-1zM426 330h1v2h-1zM427 329h1v1h-1zM428 328h2v1h-2zM430 327h1v1h-1zM431 326h1v1h-1zM432 325h1v1h-1zM433 324h1v1h-1zM434 323h1v1h-1zM435 322h1v1h-1zM436 320h1v2h-1zM437 319h1v1h-1zM438 317h1v2h-1zM439 316h1v1h-1zM440 314h1v2h-1zM441 313h1v1h-1zM442 311h1v2h-1zM443 309h1v2h-1zM444 307h1v2h-1zM445 305h1v2h-1zM446 303h1v2h-1zM447 301h1v2h-1zM448 299h1v2h-1zM449 297h1v2h-1zM450 295h1v2h-1zM451 293h1v2h-1zM452 291h1v2h-1zM453 288h1v3h-1zM454 286h1v2h-1zM455 284h1v2h-1zM456 283h1v1h-1zM457 282h1v1h-1zM458 281h1v1h-1zM459 280h1v1h-1zM460 279h1v1h-1zM461 278h1v1h-1zM462 277h1v1h-1zM463 276h1v1h-1zM464 275h1v1h-1zM465 273h1v2h-1zM466 272h1v1h-1zM467 271h1v1h-1zM468 269h1v2h-1zM469 267h1v2h-1zM470 265h1v2h-1zM471 264h1v1h-1zM472 263h2v1h-2zM474 262h1v1h-1zM475 261h1v1h-1zM476 260h2v1h-2zM478 259h1v1h-1zM479 258h6v1h-6zM485 257h2v1h-2zM487 256h2v1h-2zM489 255h2v1h-2zM491 254h2v1h-2zM493 253h2v1h-2zM495 252h1v1h-1zM496 251h2v1h-2zM498 250h1v1h-1zM499 249h1v1h-1zM500 248h2v1h-2zM502 247h1v1h-1zM503 246h2v1h-2zM505 245h2v1h-2zM507 244h1v1h-1zM508 243h1v1h-1zM509 241h1v2h-1zM510 240h1v1h-1zM511 238h1v2h-1zM512 236h1v2h-1zM513 234h1v2h-1zM514 232h1v2h-1zM515 230h1v2h-1zM516 228h1v2h-1zM517 226h1v2h-1zM518 224h1v2h-1zM519 223h1v1h-1zM520 221h1v2h-1zM521 220h1v1h-1zM522 218h1v2h-1zM523 217h1v1h-1zM524 216h1v1h-1zM525 214h1v2h-1zM526 213h1v1h-1zM527 212h1v1h-1zM528 210h1v2h-1zM529 209h1v1h-1zM530 207h1v2h-1zM531 206h1v1h-1zM532 205h1v1h-1zM533 204h1v1h-1zM534 203h1v1h-1zM535 202h1v1h-1zM536 201h2v1h-2zM538 200h1v1h-1zM539 199h3v1h-3zM542 198h4v1h-4zM546 197h4v1h-4zM550 198h3v1h-3zM553 199h2v1h-2zM555 200h3v1h-3zM558 199h7v1h-7zM565 200h2v1h-2zM567 201h1v1h-1zM568 202h1v1h-1zM569 203h1v2h-1zM570 205h1v1h-1zM571 206h1v1h-1zM572 207h1v1h-1zM573 208h1v1h-1zM574 209h1v1h-1zM575 210h1v1h-1zM576 211h1v1h-1zM577 212h1v1h-1zM578 213h1v1h-1zM579 214h2v1h-2zM581 215h2v1h-2zM583 216h7v1h-7zM590 217h2v1h-2zM592 215h1v2h-1zM593 214h1v1h-1zM594 212h1v2h-1zM595 211h1v1h-1zM596 210h2v1h-2zM598 209h1v1h-1zM599 208h1v1h-1zM600 207h1v1h-1zM601 206h1v1h-1zM602 205h1v1h-1zM603 204h1v1h-1zM604 203h1v1h-1zM605 201h1v2h-1zM606 200h1v1h-1zM607 199h1v1h-1zM608 198h1v1h-1zM609 197h1v1h-1zM610 196h1v1h-1zM611 195h2v1h-2zM613 194h2v1h-2zM615 193h2v1h-2zM617 192h2v1h-2zM619 191h5v1h-5zM624 190h2v1h-2zM626 189h1v1h-1zM627 188h3v1h-3zM630 187h6v1h-6zM636 188h1v1h-1zM637 189h1v1h-1zM638 190h1v1h-1zM639 191h1v1h-1zM640 192h1v2h-1zM641 194h1v2h-1zM642 196h1v2h-1zM643 198h1v1h-1zM644 199h1v1h-1zM645 200h1v2h-1zM646 202h1v1h-1zM647 203h1v2h-1zM648 205h1v2h-1zM649 207h1v2h-1zM650 209h1v2h-1zM651 211h1v2h-1zM652 213h1v2h-1zM653 215h1v2h-1zM654 217h1v2h-1zM655 219h1v1h-1zM656 220h1v2h-1zM657 222h1v2h-1zM658 224h1v2h-1zM659 226h1v2h-1zM660 228h1v2h-1zM661 230h1v2h-1zM662 232h1v2h-1zM663 234h1v1h-1zM664 235h1v2h-1zM665 237h1v2h-1zM666 239h1v2h-1zM667 241h1v1h-1zM668 242h1v1h-1zM669 243h1v1h-1zM670 244h1v1h-1zM671 245h1v1h-1zM672 246h1v1h-1zM673 247h1v1h-1zM674 248h1v1h-1zM675 249h3v1h-3zM678 250h2v1h-2zM680 251h2v1h-2zM682 252h1v1h-1zM683 253h2v1h-2zM685 254h2v1h-2zM687 255h3v1h-3zM690 254h2v1h-2zM692 253h1v1h-1zM693 252h1v1h-1zM694 251h1v1h-1zM695 250h1v1h-1zM696 249h1v1h-1zM697 248h1v1h-1zM698 247h1v1h-1zM699 246h1v1h-1zM700 245h2v1h-2zM702 244h1v1h-1zM703 243h1v1h-1zM704 242h2v1h-2zM706 241h1v1h-1zM707 240h1v1h-1zM708 239h1v1h-1zM709 237h1v2h-1zM710 236h1v1h-1zM711 235h1v1h-1zM712 234h1v1h-1zM713 232h1v2h-1zM714 231h1v1h-1zM715 230h1v1h-1zM716 229h1v1h-1zM717 228h1v1h-1zM718 227h1v1h-1zM719 226h1v1h-1zM720 225h2v1h-2zM722 224h1v1h-1zM723 223h1v1h-1zM724 222h1v1h-1zM725 221h1v1h-1zM726 220h1v1h-1zM727 219h1v1h-1zM728 217h1v2h-1zM729 215h1v2h-1zM730 213h1v2h-1zM731 212h1v1h-1zM732 210h1v2h-1zM733 209h1v1h-1zM734 207h1v2h-1zM735 205h1v2h-1zM736 203h1v2h-1zM737 201h1v2h-1zM738 199h1v2h-1zM739 196h1v3h-1zM740 194h1v2h-1zM741 192h1v2h-1zM742 190h1v2h-1zM743 188h1v2h-1zM744 186h1v2h-1zM745 184h1v2h-1zM746 182h1v2h-1zM747 180h1v2h-1zM748 177h1v3h-1zM749 175h1v2h-1zM750 172h1v3h-1zM751 169h1v3h-1zM752 167h1v2h-1zM753 164h1v3h-1zM754 162h1v2h-1zM755 159h1v3h-1zM756 156h1v3h-1zM757 154h1v2h-1zM758 151h1v3h-1zM759 148h1v3h-1zM760 146h1v2h-1zM761 143h1v3h-1zM762 141h1v2h-1zM763 138h1v3h-1zM764 136h1v2h-1zM765 134h1v2h-1zM766 132h1v2h-1zM767 130h1v2h-1zM768 128h1v2h-1zM769 126h1v2h-1zM770 124h1v2h-1zM771 121h1v3h-1zM772 119h1v2h-1zM773 117h1v2h-1zM774 115h1v2h-1zM775 113h1v2h-1zM776 111h1v2h-1zM777 109h1v2h-1zM778 107h1v2h-1zM779 105h1v2h-1zM780 103h1v2h-1zM781 101h1v2h-1zM782 99h1v2h-1zM783 98h1v1h-1zM784 97h1v1h-1zM785 95h1v2h-1zM786 94h1v1h-1zM787 93h1v1h-1zM788 92h2v1h-2zM790 91h1v1h-1zM791 90h3v1h-3zM794 89h2v1h-2zM796 88h2v1h-2zM798 87h1v1h-1zM799 86h2v1h-2zM801 85h2v1h-2zM803 84h2v1h-2zM805 85h2v1h-2zM807 86h1v1h-1zM808 87h1v1h-1zM809 88h1v1h-1zM810 89h1v1h-1zM811 90h1v1h-1zM812 91h1v1h-1zM813 92h1v2h-1zM814 94h1v1h-1zM815 95h1v1h-1zM816 96h1v2h-1zM817 98h1v2h-1zM818 100h1v2h-1zM819 102h1v1h-1zM820 103h1v2h-1zM821 105h1v1h-1zM822 106h1v2h-1zM823 108h1v1h-1zM824 109h1v1h-1zM825 110h1v2h-1zM826 112h1v1h-1zM827 113h1v1h-1zM828 114h1v1h-1zM829 115h1v2h-1zM830 117h1v1h-1zM831 118h1v1h-1zM832 119h2v1h-2zM834 120h1v1h-1zM835 121h1v1h-1zM836 122h1v1h-1zM837 123h1v2h-1zM838 125h1v1h-1zM839 126h1v1h-1zM840 127h1v1h-1zM841 128h1v1h-1zM842 129h1v1h-1zM843 130h1v1h-1zM844 131h2v1h-2zM846 132h1v1h-1zM847 133h1v1h-1zM848 134h1v1h-1zM849 135h1v1h-1zM850 136h1v1h-1zM851 137h1v2h-1zM852 139h1v2h-1zM853 141h1v2h-1zM854 143h1v2h-1zM855 145h1v3h-1zM856 148h1v2h-1zM857 150h1v2h-1zM858 152h1v2h-1zM859 154h1v2h-1zM860 156h1v2h-1zM861 158h1v2h-1zM862 160h1v2h-1zM863 162h1v1h-1zM864 163h1v1h-1zM865 164h1v2h-1zM866 166h1v1h-1zM867 167h3v1h-3zM870 168h4v1h-4zM874 167h4v1h-4zM878 168h2v1h-2zM880 169h2v1h-2zM882 170h1v1h-1zM883 171h1v1h-1zM884 172h1v2h-1zM885 174h1v1h-1zM886 175h1v2h-1zM887 177h1v2h-1zM888 179h1v2h-1zM889 181h1v2h-1zM890 183h1v2h-1zM891 185h1v3h-1zM892 188h1v2h-1zM893 190h1v3h-1zM894 193h1v2h-1zM895 195h1v2h-1zM896 197h1v2h-1zM897 199h1v2h-1zM898 201h1v2h-1zM899 203h1v2h-1zM900 205h1v2h-1zM901 207h1v3h-1zM902 210h1v2h-1zM903 212h1v3h-1zM904 215h1v3h-1zM905 218h1v3h-1zM906 221h1v3h-1zM907 224h1v2h-1zM908 226h1v2h-1zM909 228h1v2h-1zM910 230h1v2h-1zM911 232h1v1h-1zM912 233h1v2h-1zM913 235h1v1h-1zM914 236h1v2h-1zM915 238h1v1h-1zM916 239h1v1h-1zM917 240h1v2h-1zM918 242h1v1h-1zM919 243h1v1h-1zM920 244h1v1h-1zM921 245h1v1h-1zM922 246h1v1h-1zM923 247h1v1h-1zM924 248h1v2h-1zM925 250h1v2h-1zM926 252h1v2h-1zM927 254h1v1h-1zM928 255h1v1h-1zM929 256h1v2h-1zM930 258h1v1h-1zM931 259h1v1h-1zM932 260h1v1h-1zM933 261h1v1h-1zM934 262h1v1h-1zM935 263h3v1h-3zM938 264h4v1h-4zM942 263h6v1h-6zM948 264h1v2h-1zM949 266h1v1h-1zM950 267h1v2h-1zM951 269h1v2h-1zM952 271h1v2h-1zM953 273h1v2h-1zM954 275h1v2h-1zM955 277h1v3h-1zM956 280h1v2h-1zM957 282h1v2h-1zM958 284h1v2h-1zM959 286h1v1h-1zM960 287h1v2h-1zM961 289h1v2h-1zM962 291h1v2h-1zM963 293h1v2h-1zM964 295h1v2h-1zM965 297h1v2h-1zM966 299h1v2h-1zM967 301h1v1h-1zM968 302h1v2h-1zM969 304h1v1h-1zM970 305h1v2h-1zM971 307h1v2h-1zM972 309h1v2h-1zM973 311h1v2h-1zM974 313h1v2h-1zM975 315h1v2h-1zM976 317h1v2h-1zM977 319h1v3h-1zM978 322h1v2h-1zM979 324h1v2h-1zM980 326h1v2h-1zM981 328h1v2h-1zM982 330h1v2h-1zM983 332h1v1h-1zM984 333h1v2h-1zM985 335h1v1h-1zM986 336h1v2h-1zM987 338h1v1h-1zM988 339h1v2h-1zM989 341h1v2h-1zM990 343h1v2h-1zM991 345h1v1h-1zM992 346h1v2h-1zM993 348h1v2h-1zM994 350h1v2h-1zM995 352h1v2h-1zM996 354h1v2h-1zM997 356h1v2h-1zM998 358h1v2h-1zM999 360h3v1h-3zM1002 361h2v1h-2zM1004 359h1v2h-1zM1005 358h1v1h-1zM1006 356h1v2h-1zM1007 354h1v2h-1zM1008 352h1v2h-1zM1009 350h1v2h-1zM1010 348h1v2h-1zM1011 345h1v3h-1zM1012 343h1v2h-1zM1013 341h1v2h-1zM1014 339h1v2h-1zM1015 336h1v3h-1zM1016 334h1v2h-1zM1017 332h1v2h-1zM1018 330h1v2h-1zM1019 328h1v2h-1zM1020 326h1v2h-1zM1021 324h1v2h-1zM1022 322h1v2h-1zM1023 321h1v1h-1zM1024 320h2v1h-2zM1026 319h1v1h-1zM1027 318h1v1h-1zM1028 317h1v1h-1zM1029 316h1v1h-1zM1030 315h1v1h-1zM1031 314h1v1h-1zM1032 313h1v1h-1zM1033 311h1v2h-1zM1034 310h1v1h-1zM1035 309h1v1h-1zM1036 308h1v1h-1zM1037 307h1v1h-1zM1038 306h1v1h-1zM1039 305h6v1h-6zM1045 306h2v1h-2zM1047 307h3v1h-3zM1050 308h4v1h-4zM1054 309h2v1h-2zM1056 310h1v1h-1zM1057 311h1v2h-1zM1058 313h1v1h-1zM1059 314h1v1h-1zM1060 315h2v1h-2zM1062 316h1v1h-1zM1063 317h1v1h-1zM1064 318h1v1h-1zM1065 319h1v2h-1zM1066 321h1v1h-1zM1067 322h3v1h-3zM1070 323h2v1h-2zM1072 322h2v1h-2zM1074 321h1v1h-1zM1075 320h3v1h-3zM1078 319h2v1h-2zM1080 318h1v1h-1zM1081 317h1v1h-1zM1082 316h1v1h-1zM1083 315h1v1h-1zM1084 314h2v1h-2zM1086 313h1v1h-1zM1087 312h1v1h-1zM1088 311h1v1h-1zM1089 309h1v2h-1zM1090 308h1v1h-1zM1091 307h3v1h-3zM1094 306h2v1h-2zM1096 307h2v1h-2zM1098 308h1v1h-1zM1099 309h3v1h-3zM1102 308h2v1h-2zM1104 309h1v2h-1zM1105 311h1v2h-1zM1106 313h1v2h-1zM1107 315h1v1h-1zM1108 316h2v1h-2zM1110 317h1v1h-1zM1111 318h1v1h-1zM1112 319h1v1h-1zM1113 320h1v1h-1zM1114 321h1v1h-1zM1115 322h1v1h-1zM1116 323h1v2h-1zM1117 325h1v1h-1zM1118 326h1v2h-1zM1119 328h1v1h-1zM1120 329h1v2h-1zM1121 331h1v1h-1zM1122 332h1v2h-1zM1123 334h1v2h-1zM1124 336h1v2h-1zM1125 338h1v3h-1zM1126 341h1v2h-1zM1127 343h1v3h-1zM1128 346h1v3h-1zM1129 349h1v3h-1zM1130 352h1v3h-1zM1131 355h1v2h-1z" fill="#ff0000" shape-rendering="crispEdges"/>
<path d="M7 444h1v2h-1zM8 446h1v2h-1zM9 448h1v2h-1zM10 450h1v2h-1zM11 452h1v2h-1zM12 454h1v2h-1zM13 456h1v2h-1zM14 458h1v2h-1zM15 460h1v2h-1zM16 462h1v2h-1zM17 464h1v2h-1zM18 466h1v2h-1zM19 468h1v3h-1zM20 471h1v2h-1zM21 473h1v3h-1zM22 476h1v2h-1zM23 478h1v3h-1zM24 481h1v2h-1zM25 483h1v2h-1zM26 485h1v2h-1zM27 487h1v2h-1zM28 489h1v1h-1zM29 490h1v1h-1zM30 491h1v1h-1zM31 492h1v1h-1zM32 491h2v1h-2zM34 490h1v1h-1zM35 489h3v1h-3zM38 488h1v1h-1zM39 487h1v2h-1zM40 485h1v2h-1zM41 482h1v3h-1zM42 480h1v2h-1zM43 476h1v4h-1zM44 471h1v5h-1zM45 465h1v6h-1zM46 460h1v5h-1zM47 455h1v5h-1zM48 449h1v6h-1zM49 443h1v6h-1zM50 437h1v6h-1zM51 431h1v6h-1zM52 425h1v6h-1zM53 418h1v7h-1zM54 412h1v6h-1zM55 406h1v6h-1zM56 401h1v5h-1zM57 396h1v5h-1zM58 391h1v5h-1zM59 385h1v6h-1zM60 378h1v7h-1zM61 372h1v6h-1zM62 365h1v7h-1zM63 358h1v7h-1zM64 351h1v7h-1zM65 345h1v6h-1zM66 338h1v7h-1zM67 333h1v5h-1zM68 329h1v4h-1zM69 325h1v4h-1zM70 321h1v4h-1zM71 318h1v3h-1zM72 315h1v3h-1zM73 312h1v3h-1zM74 309h1v3h-1zM75 306h1v3h-1zM76 303h1v3h-1zM77 301h1v2h-1zM78 298h1v3h-1zM79 295h1v3h-1zM80 293h1v2h-1zM81 291h1v2h-1zM82 289h1v2h-1zM83 287h1v2h-1zM84 286h1v1h-1zM85 285h1v1h-1zM86 284h1v1h-1zM87 283h2v1h-2zM89 284h2v1h-2zM91 285h3v1h-3zM94 286h6v1h-6zM100 287h1v1h-1zM101 288h1v2h-1zM102 290h1v1h-1zM103 291h2v1h-2zM105 292h2v1h-2zM107 293h1v1h-1zM108 292h2v1h-2zM110 291h1v1h-1zM111 289h1v2h-1zM112 287h1v2h-1zM113 285h1v2h-1zM114 283h1v2h-1zM115 282h1v1h-1zM116 280h1v2h-1zM117 278h1v2h-1zM118 276h1v2h-1zM119 275h1v1h-1zM120 273h1v2h-1zM121 272h1v1h-1zM122 270h1v2h-1zM123 269h1v1h-1zM124 268h1v1h-1zM125 266h1v2h-1zM126 265h1v1h-1zM127 263h1v2h-1zM128 261h1v2h-1zM129 259h1v2h-1zM130 257h1v2h-1zM131 256h1v1h-1zM132 254h1v2h-1zM133 252h1v2h-1zM134 250h1v2h-1zM135 249h1v1h-1zM136 248h1v1h-1zM137 246h1v2h-1zM138 245h1v1h-1zM139 244h3v1h-3zM142 243h4v1h-4zM146 242h2v1h-2zM148 240h1v2h-1zM149 239h1v1h-1zM150 237h1v2h-1zM151 235h1v2h-1zM152 233h1v2h-1zM153 231h1v2h-1zM154 229h1v2h-1zM155 226h1v3h-1zM156 222h1v4h-1zM157 219h1v3h-1zM158 215h1v4h-1zM159 213h1v2h-1zM160 212h1v1h-1zM161 210h1v2h-1zM162 209h1v1h-1zM163 208h1v1h-1zM164 207h1v1h-1zM165 205h1v2h-1zM166 204h1v1h-1zM167 203h1v1h-1zM168 201h1v2h-1zM169 200h1v1h-1zM170 198h1v2h-1zM171 197h1v1h-1zM172 195h1v2h-1zM173 193h1v2h-1zM174 191h1v2h-1zM175 190h3v1h-3zM178 191h2v1h-2zM180 192h2v1h-2zM182 193h1v1h-1zM183 194h1v1h-1zM184 195h2v1h-2zM186 196h1v1h-1zM187 197h1v1h-1zM188 196h1v1h-1zM189 195h1v1h-1zM190 194h1v1h-1zM191 193h3v1h-3zM194 192h1v1h-1zM195 191h1v2h-1zM196 189h1v2h-1zM197 187h1v2h-1zM198 185h1v2h-1zM199 184h2v1h-2zM201 183h2v1h-2zM203 182h1v1h-1zM204 181h1v1h-1zM205 179h1v2h-1zM206 178h1v1h-1zM207 177h1v1h-1zM208 176h1v1h-1zM209 174h1v2h-1zM210 173h1v1h-1zM211 172h1v1h-1zM212 173h1v2h-1zM213 175h1v1h-1zM214 176h1v2h-1zM215 178h1v1h-1zM216 179h1v2h-1zM217 181h1v2h-1zM218 183h1v2h-1zM219 185h1v2h-1zM220 187h1v3h-1zM221 190h1v4h-1zM222 194h1v3h-1zM223 197h1v4h-1zM224 201h1v4h-1zM225 205h1v4h-1zM226 209h1v4h-1zM227 213h1v3h-1zM228 216h1v3h-1zM229 219h1v3h-1zM230 222h1v3h-1zM231 225h1v3h-1zM232 228h1v3h-1zM233 231h1v2h-1zM234 233h1v3h-1zM235 236h1v3h-1zM236 239h1v2h-1zM237 241h1v3h-1zM238 244h1v2h-1zM239 246h1v2h-1zM240 248h2v1h-2zM242 249h1v1h-1zM243 250h3v1h-3zM246 251h2v1h-2zM248 249h1v2h-1zM249 248h1v1h-1zM250 246h1v2h-1zM251 245h2v1h-2zM253 246h2v1h-2zM255 247h2v1h-2zM257 246h2v1h-2zM259 245h1v1h-1zM260 244h1v1h-1zM261 242h1v2h-1zM262 241h1v1h-1zM263 240h3v1h-3zM266 239h4v1h-4zM270 238h4v1h-4zM274 239h3v1h-3zM277 240h2v1h-2zM279 241h5v1h-5zM284 242h1v2h-1zM285 244h1v2h-1zM286 246h1v2h-1zM287 248h1v2h-1zM288 250h1v2h-1zM289 252h1v3h-1zM290 255h1v2h-1zM291 257h1v3h-1zM292 260h1v2h-1zM293 262h1v2h-1zM294 264h1v2h-1zM295 266h1v2h-1zM296 268h1v1h-1zM297 269h1v2h-1zM298 271h1v1h-1zM299 272h1v1h-1zM300 273h1v1h-1zM301 274h1v2h-1zM302 276h1v1h-1zM303 277h1v1h-1zM304 278h2v1h-2zM306 279h1v1h-1zM307 280h1v1h-1zM308 279h1v1h-1zM309 277h1v2h-1zM310 276h1v1h-1zM311 274h1v2h-1zM312 272h1v2h-1zM313 270h1v2h-1zM314 268h1v2h-1zM315 266h1v2h-1zM316 265h2v1h-2zM318 264h1v1h-1zM319 263h1v1h-1zM320 262h2v1h-2zM322 261h1v1h-1zM323 260h5v1h-5zM328 261h1v1h-1zM329 262h1v2h-1zM330 264h1v1h-1zM331 265h3v1h-3zM334 264h2v1h-2zM336 265h1v1h-1zM337 266h1v2h-1zM338 268h1v1h-1zM339 269h1v2h-1zM340 271h1v3h-1zM341 274h1v3h-1zM342 277h1v3h-1zM343 280h1v2h-1zM344 282h1v2h-1zM345 284h1v1h-1zM346 285h1v2h-1zM347 287h2v1h-2zM349 286h2v1h-2zM351 285h1v1h-1zM352 286h1v2h-1zM353 288h1v2h-1zM354 290h1v2h-1zM355 292h2v1h-2zM357 293h2v1h-2zM359 294h1v2h-1zM360 296h1v3h-1zM361 299h1v2h-1zM362 301h1v3h-1zM363 304h1v3h-1zM364 307h1v3h-1zM365 310h1v4h-1zM366 314h1v3h-1zM367 317h1v2h-1zM368 319h1v1h-1zM369 320h1v1h-1zM370 321h1v1h-1zM371 322h1v1h-1zM372 321h2v1h-2zM374 320h1v1h-1zM375 319h1v2h-1zM376 321h1v2h-1zM377 323h1v2h-1zM378 325h1v2h-1zM379 327h3v1h-3zM382 328h6v1h-6zM388 329h1v1h-1zM389 330h1v1h-1zM390 331h1v1h-1zM391 332h4v1h-4zM395 332h1v2h-1zM396 334h1v2h-1zM397 336h1v2h-1zM398 338h1v2h-1zM399 340h1v2h-1zM400 342h1v1h-1zM401 343h1v2h-1zM402 345h1v1h-1zM403 346h1v1h-1zM404 347h2v1h-2zM406 348h1v1h-1zM407 349h2v1h-2zM409 350h2v1h-2zM411 351h1v1h-1zM412 352h1v1h-1zM413 353h1v2h-1zM414 355h1v1h-1zM415 355h1v2h-1zM416 353h1v2h-1zM417 351h1v2h-1zM418 349h1v2h-1zM419 347h1v2h-1zM420 345h1v2h-1zM421 342h1v3h-1zM422 340h1v2h-1zM423 336h1v4h-1zM424 331h1v5h-1zM425 325h1v6h-1zM426 320h1v5h-1zM427 316h1v4h-1zM428 313h1v3h-1zM429 311h1v2h-1zM430 308h1v3h-1zM431 305h1v3h-1zM432 302h1v3h-1zM433 299h1v3h-1zM434 296h1v3h-1zM435 293h1v3h-1zM436 290h1v3h-1zM437 286h1v4h-1zM438 283h1v3h-1zM439 279h1v4h-1zM440 275h1v4h-1zM441 271h1v4h-1zM442 267h1v4h-1zM443 263h1v4h-1zM444 261h1v2h-1zM445 259h1v2h-1zM446 257h1v2h-1zM447 256h1v1h-1zM448 255h1v1h-1zM449 253h1v2h-1zM450 252h1v1h-1zM451 251h3v1h-3zM454 252h2v1h-2zM456 253h2v1h-2zM458 254h1v1h-1zM459 255h1v1h-1zM460 256h1v1h-1zM461 257h1v1h-1zM462 258h1v1h-1zM463 259h2v1h-2zM465 260h2v1h-2zM467 261h1v1h-1zM468 262h1v1h-1zM469 263h1v1h-1zM470 264h1v1h-1zM471 265h3v1h-3zM474 266h6v1h-6zM480 265h2v1h-2zM482 264h1v1h-1zM483 263h1v1h-1zM484 262h1v1h-1zM485 260h1v2h-1zM486 259h1v1h-1zM487 257h1v2h-1zM488 255h1v2h-1zM489 253h1v2h-1zM490 251h1v2h-1zM491 249h1v2h-1zM492 247h1v2h-1zM493 245h1v2h-1zM494 243h1v2h-1zM495 241h1v2h-1zM496 239h1v2h-1zM497 237h1v2h-1zM498 235h1v2h-1zM499 233h1v2h-1zM500 231h1v2h-1zM501 230h1v1h-1zM502 228h1v2h-1zM503 227h1v1h-1zM504 226h1v1h-1zM505 224h1v2h-1zM506 223h1v1h-1zM507 221h1v2h-1zM508 219h1v2h-1zM509 217h1v2h-1zM510 215h1v2h-1zM511 213h1v2h-1zM512 211h1v2h-1zM513 209h1v2h-1zM514 207h1v2h-1zM515 204h1v3h-1zM516 202h1v2h-1zM517 200h1v2h-1zM518 198h1v2h-1zM519 196h1v2h-1zM520 195h2v1h-2zM522 194h1v1h-1zM523 193h2v1h-2zM525 192h2v1h-2zM527 191h1v1h-1zM528 190h1v1h-1zM529 188h1v2h-1zM530 187h1v1h-1zM531 186h1v1h-1zM532 185h1v1h-1zM533 183h1v2h-1zM534 182h1v1h-1zM535 181h1v1h-1zM536 182h2v1h-2zM538 183h1v1h-1zM539 184h1v1h-1zM540 185h1v2h-1zM541 187h1v1h-1zM542 188h1v2h-1zM543 190h1v2h-1zM544 192h1v2h-1zM545 194h1v2h-1zM546 196h1v2h-1zM547 198h1v1h-1zM548 199h1v1h-1zM549 200h1v2h-1zM550 202h1v1h-1zM551 203h1v1h-1zM552 204h1v1h-1zM553 205h1v2h-1zM554 207h1v1h-1zM555 208h1v1h-1zM556 209h1v1h-1zM557 210h1v2h-1zM558 212h1v1h-1zM559 213h1v1h-1zM560 214h1v1h-1zM561 215h1v2h-1zM562 217h1v1h-1zM563 218h5v1h-5zM568 219h2v1h-2zM570 220h1v1h-1zM571 221h3v1h-3zM574 222h3v1h-3zM577 223h2v1h-2zM579 224h5v1h-5zM584 223h1v1h-1zM585 222h1v1h-1zM586 221h1v1h-1zM587 220h1v1h-1zM588 219h1v1h-1zM589 217h1v2h-1zM590 216h1v1h-1zM591 214h1v2h-1zM592 212h1v2h-1zM593 209h1v3h-1zM594 207h1v2h-1zM595 204h1v3h-1zM596 201h1v3h-1zM597 199h1v2h-1zM598 196h1v3h-1zM599 193h1v3h-1zM600 191h1v2h-1zM601 189h1v2h-1zM602 187h1v2h-1zM603 185h1v2h-1zM604 182h1v3h-1zM605 179h1v3h-1zM606 176h1v3h-1zM607 173h1v3h-1zM608 171h1v2h-1zM609 169h1v2h-1zM610 167h1v2h-1zM611 166h3v1h-3zM614 167h4v1h-4zM618 168h1v1h-1zM619 168h1v2h-1zM620 170h1v2h-1zM621 172h1v2h-1zM622 174h1v2h-1zM623 176h1v2h-1zM624 178h1v1h-1zM625 179h1v2h-1zM626 181h1v1h-1zM627 182h1v1h-1zM628 183h1v2h-1zM629 185h1v1h-1zM630 186h1v2h-1zM631 188h1v2h-1zM632 190h1v3h-1zM633 193h1v3h-1zM634 196h1v3h-1zM635 199h1v4h-1zM636 203h1v4h-1zM637 207h1v4h-1zM638 211h1v4h-1zM639 215h1v4h-1zM640 219h1v3h-1zM641 222h1v3h-1zM642 225h1v3h-1zM643 228h1v3h-1zM644 231h1v2h-1zM645 233h1v2h-1zM646 235h1v2h-1zM647 237h1v3h-1zM648 240h1v2h-1zM649 242h1v2h-1zM650 244h1v2h-1zM651 246h1v3h-1zM652 249h1v2h-1zM653 251h1v3h-1zM654 254h1v2h-1zM655 256h1v3h-1zM656 259h1v2h-1zM657 261h1v2h-1zM658 263h1v2h-1zM659 265h1v1h-1zM660 266h1v1h-1zM661 267h1v1h-1zM662 268h1v1h-1zM663 269h1v1h-1zM664 268h1v1h-1zM665 267h1v1h-1zM666 266h1v1h-1zM667 265h1v1h-1zM668 264h1v1h-1zM669 263h1v1h-1zM670 262h1v1h-1zM671 261h3v1h-3zM674 260h2v1h-2zM676 258h1v2h-1zM677 257h1v1h-1zM678 255h1v2h-1zM679 254h1v1h-1zM680 253h1v1h-1zM681 251h1v2h-1zM682 250h1v1h-1zM683 249h1v1h-1zM684 248h1v1h-1zM685 247h1v1h-1zM686 246h1v1h-1zM687 245h1v1h-1zM688 244h1v1h-1zM689 242h1v2h-1zM690 241h1v1h-1zM691 240h1v1h-1zM692 239h1v1h-1zM693 237h1v2h-1zM694 236h1v1h-1zM695 235h1v1h-1zM696 234h1v1h-1zM697 233h1v1h-1zM698 232h1v1h-1zM699 231h1v1h-1zM700 230h1v1h-1zM701 229h1v1h-1zM702 228h1v1h-1zM703 227h3v1h-3zM706 226h2v1h-2zM708 225h1v1h-1zM709 223h1v2h-1zM710 222h1v1h-1zM711 221h1v1h-1zM712 220h1v1h-1zM713 218h1v2h-1zM714 217h1v1h-1zM715 216h1v1h-1zM716 215h2v1h-2zM718 214h1v1h-1zM719 213h1v1h-1zM720 212h2v1h-2zM722 211h1v1h-1zM723 210h1v1h-1zM724 209h1v1h-1zM725 208h1v1h-1zM726 207h1v1h-1zM727 205h1v2h-1zM728 203h1v2h-1zM729 201h1v2h-1zM730 199h1v2h-1zM731 197h1v2h-1zM732 194h1v3h-1zM733 192h1v2h-1zM734 189h1v3h-1zM735 186h1v3h-1zM736 183h1v3h-1zM737 179h1v4h-1zM738 176h1v3h-1zM739 173h1v3h-1zM740 170h1v3h-1zM741 167h1v3h-1zM742 164h1v3h-1zM743 161h1v3h-1zM744 158h1v3h-1zM745 154h1v4h-1zM746 151h1v3h-1zM747 147h1v4h-1zM748 142h1v5h-1zM749 138h1v4h-1zM750 133h1v5h-1zM751 128h1v5h-1zM752 124h1v4h-1zM753 120h1v4h-1zM754 116h1v4h-1zM755 112h1v4h-1zM756 109h1v3h-1zM757 106h1v3h-1zM758 103h1v3h-1zM759 100h1v3h-1zM760 98h1v2h-1zM761 96h1v2h-1zM762 94h1v2h-1zM763 92h1v2h-1zM764 91h1v1h-1zM765 90h1v1h-1zM766 89h1v1h-1zM767 88h1v1h-1zM768 86h1v2h-1zM769 85h1v1h-1zM770 83h1v2h-1zM771 82h1v1h-1zM772 81h2v1h-2zM774 80h1v1h-1zM775 79h1v1h-1zM776 80h2v1h-2zM778 81h1v1h-1zM779 82h3v1h-3zM782 83h3v1h-3zM785 84h2v1h-2zM787 85h1v1h-1zM788 86h2v1h-2zM790 87h1v1h-1zM791 88h2v1h-2zM793 89h2v1h-2zM795 90h6v1h-6zM801 89h2v1h-2zM803 88h2v1h-2zM805 89h2v1h-2zM807 90h1v1h-1zM808 91h1v2h-1zM809 93h1v2h-1zM810 95h1v2h-1zM811 97h1v2h-1zM812 99h1v2h-1zM813 101h1v2h-1zM814 103h1v2h-1zM815 105h1v2h-1zM816 107h1v3h-1zM817 110h1v2h-1zM818 112h1v3h-1zM819 115h1v3h-1zM820 118h1v2h-1zM821 120h1v2h-1zM822 122h1v2h-1zM823 124h1v3h-1zM824 127h1v3h-1zM825 130h1v3h-1zM826 133h1v3h-1zM827 136h1v3h-1zM828 139h1v3h-1zM829 142h1v2h-1zM830 144h1v3h-1zM831 147h1v2h-1zM832 149h1v1h-1zM833 150h1v1h-1zM834 151h1v1h-1zM835 152h2v1h-2zM837 153h2v1h-2zM839 154h2v1h-2zM841 155h2v1h-2zM843 156h1v1h-1zM844 154h1v2h-1zM845 153h1v1h-1zM846 151h1v2h-1zM847 150h3v1h-3zM850 149h2v1h-2zM852 150h1v1h-1zM853 151h1v2h-1zM854 153h1v1h-1zM855 154h1v2h-1zM856 156h1v2h-1zM857 158h1v2h-1zM858 160h1v2h-1zM859 162h1v3h-1zM860 165h1v2h-1zM861 167h1v2h-1zM862 169h1v2h-1zM863 171h1v2h-1zM864 173h1v2h-1zM865 175h1v2h-1zM866 177h1v2h-1zM867 179h2v1h-2zM869 180h2v1h-2zM871 181h1v1h-1zM872 182h2v1h-2zM874 183h1v1h-1zM875 184h2v1h-2zM877 185h2v1h-2zM879 186h1v1h-1zM880 187h2v1h-2zM882 188h1v1h-1zM883 189h2v1h-2zM885 190h2v1h-2zM887 191h1v2h-1zM888 193h1v2h-1zM889 195h1v2h-1zM890 197h1v2h-1zM891 199h1v3h-1zM892 202h1v3h-1zM893 205h1v3h-1zM894 208h1v3h-1zM895 211h1v3h-1zM896 214h1v4h-1zM897 218h1v3h-1zM898 221h1v4h-1zM899 225h1v4h-1zM900 229h1v4h-1zM901 233h1v4h-1zM902 237h1v4h-1zM903 241h1v5h-1zM904 246h1v5h-1zM905 251h1v6h-1zM906 257h1v5h-1zM907 262h1v4h-1zM908 266h1v2h-1zM909 268h1v3h-1zM910 271h1v2h-1zM911 273h1v3h-1zM912 276h1v3h-1zM913 279h1v2h-1zM914 281h1v3h-1zM915 284h1v2h-1zM916 285h4v1h-4zM920 284h2v1h-2zM922 283h1v1h-1zM923 282h3v1h-3zM926 283h1v1h-1zM927 282h1v2h-1zM928 280h1v2h-1zM929 278h1v2h-1zM930 276h1v2h-1zM931 274h1v2h-1zM932 271h1v3h-1zM933 267h1v4h-1zM934 264h1v3h-1zM935 261h1v3h-1zM936 259h1v2h-1zM937 257h1v2h-1zM938 255h1v2h-1zM939 253h1v2h-1zM940 250h1v3h-1zM941 247h1v3h-1zM942 244h1v3h-1zM943 242h1v2h-1zM944 242h2v1h-2zM946 241h1v1h-1zM947 241h1v2h-1zM948 243h1v4h-1zM949 247h1v4h-1zM950 251h1v4h-1zM951 255h1v4h-1zM952 259h1v4h-1zM953 263h1v4h-1zM954 267h1v4h-1zM955 271h1v6h-1zM956 277h1v6h-1zM957 283h1v6h-1zM958 289h1v6h-1zM959 295h1v6h-1zM960 301h1v7h-1zM961 308h1v7h-1zM962 315h1v7h-1zM963 322h1v7h-1zM964 329h1v6h-1zM965 335h1v6h-1zM966 341h1v6h-1zM967 347h1v6h-1zM968 353h1v6h-1zM969 359h1v6h-1zM970 365h1v6h-1zM971 371h1v5h-1zM972 376h1v4h-1zM973 380h1v4h-1zM974 384h1v4h-1zM975 388h1v2h-1zM976 390h1v1h-1zM977 391h1v2h-1zM978 393h1v1h-1zM979 394h1v1h-1zM980 393h2v1h-2zM982 392h1v1h-1zM983 390h1v2h-1zM984 387h1v3h-1zM985 384h1v3h-1zM986 381h1v3h-1zM987 378h1v3h-1zM988 375h1v3h-1zM989 371h1v4h-1zM990 368h1v3h-1zM991 365h1v3h-1zM992 362h1v3h-1zM993 360h1v2h-1zM994 357h1v3h-1zM995 354h1v3h-1zM996 352h1v2h-1zM997 350h1v2h-1zM998 348h1v2h-1zM999 346h1v2h-1zM1000 342h1v4h-1zM1001 338h1v4h-1zM1002 334h1v4h-1zM1003 330h1v4h-1zM1004 326h1v4h-1zM1005 322h1v4h-1zM1006 318h1v4h-1zM1007 315h1v3h-1zM1008 311h1v4h-1zM1009 307h1v4h-1zM1010 303h1v4h-1zM1011 301h1v2h-1zM1012 299h1v2h-1zM1013 298h1v1h-1zM1014 296h1v2h-1zM1015 295h1v1h-1zM1016 294h2v1h-2zM1018 293h1v1h-1zM1019 292h1v1h-1zM1020 291h1v1h-1zM1021 289h1v2h-1zM1022 288h1v1h-1zM1023 287h3v1h-3zM1026 288h1v1h-1zM1027 288h1v2h-1zM1028 290h1v2h-1zM1029 292h1v2h-1zM1030 294h1v2h-1zM1031 296h1v1h-1zM1032 297h1v2h-1zM1033 299h1v2h-1zM1034 301h1v2h-1zM1035 303h1v1h-1zM1036 304h1v2h-1zM1037 306h1v1h-1zM1038 307h1v2h-1zM1039 309h1v1h-1zM1040 310h1v2h-1zM1041 312h1v2h-1zM1042 314h1v2h-1zM1043 316h1v1h-1zM1044 317h1v1h-1zM1045 318h1v2h-1zM1046 320h1v1h-1zM1047 321h1v2h-1zM1048 323h1v2h-1zM1049 325h1v2h-1zM1050 327h1v2h-1zM1051 329h1v2h-1zM1052 330h2v1h-2zM1054 331h3v1h-3zM1057 332h2v1h-2zM1059 333h3v1h-3zM1062 332h2v1h-2zM1064 333h2v1h-2zM1066 334h1v1h-1zM1067 335h1v1h-1zM1068 334h1v1h-1zM1069 333h1v1h-1zM1070 332h1v1h-1zM1071 330h1v2h-1zM1072 327h1v3h-1zM1073 324h1v3h-1zM1074 321h1v3h-1zM1075 318h1v3h-1zM1076 315h1v3h-1zM1077 313h1v2h-1zM1078 310h1v3h-1zM1079 307h1v3h-1zM1080 305h1v2h-1zM1081 303h1v2h-1zM1082 301h1v2h-1zM1083 299h1v2h-1zM1084 297h1v2h-1zM1085 295h1v2h-1zM1086 293h1v2h-1zM1087 291h1v2h-1zM1088 289h1v2h-1zM1089 287h1v2h-1zM1090 285h1v2h-1zM1091 283h1v2h-1zM1092 281h1v2h-1zM1093 280h1v1h-1zM1094 278h1v2h-1zM1095 277h1v2h-1zM1096 279h1v2h-1zM1097 281h1v2h-1zM1098 283h1v2h-1zM1099 285h1v3h-1zM1100 288h1v3h-1zM1101 291h1v3h-1zM1102 294h1v3h-1zM1103 297h1v4h-1zM1104 301h1v6h-1zM1105 307h1v6h-1zM1106 313h1v6h-1zM1107 319h1v5h-1zM1108 324h1v4h-1zM1109 328h1v4h-1zM1110 332h1v4h-1zM1111 336h1v4h-1zM1112 340h1v4h-1zM1113 344h1v4h-1zM1114 348h1v4h-1zM1115 352h1v4h-1zM1116 356h1v5h-1zM1117 361h1v5h-1zM1118 366h1v5h-1zM1119 371h1v5h-1zM1120 376h1v5h-1zM1121 381h1v4h-1zM1122 385h1v5h-1zM1123 390h1v4h-1zM1124 394h1v3h-1zM1125 397h1v2h-1zM1126 399h1v3h-1zM1127 402h1v3h-1zM1128 405h1v2h-1zM1129 407h1v3h-1zM1130 410h1v2h-1zM1131 412h1v2h-1z" fill="#0000cd" shape-rendering="crispEdges"/>
<g shape-rendering="crispEdges">
<rect x="7" y="611" width="1" height="40" fill="#c0c0c0"/>
<rect x="11" y="611" width="1" height="40" fill="#c0c0c0"/>
<rect x="15" y="611" width="1" height="38" fill="#c0c0c0"/>
<rect x="19" y="611" width="1" height="40" fill="#c0c0c0"/>
<rect x="23" y="611" width="1" height="42" fill="#c0c0c0"/>
<rect x="27" y="611" width="1" height="43" fill="#c0c0c0"/>
<rect x="31" y="611" width="1" height="39" fill="#c0c0c0"/>
<rect x="35" y="611" width="1" height="36" fill="#c0c0c0"/>
<rect x="39" y="611" width="1" height="33" fill="#c0c0c0"/>
<rect x="43" y="611" width="1" height="24" fill="#c0c0c0"/>
<rect x="47" y="611" width="1" height="15" fill="#c0c0c0"/>
<rect x="51" y="611" width="1" height="6" fill="#c0c0c0"/>
<rect x="55" y="608" width="1" height="4" fill="#c0c0c0"/>
<rect x="59" y="602" width="1" height="10" fill="#c0c0c0"/>
<rect x="63" y="592" width="1" height="20" fill="#c0c0c0"/>
<rect x="67" y="585" width="1" height="27" fill="#c0c0c0"/>
<rect x="71" y="580" width="1" height="32" fill="#c0c0c0"/>
<rect x="75" y="577" width="1" height="35" fill="#c0c0c0"/>
<rect x="79" y="573" width="1" height="39" fill="#c0c0c0"/>
<rect x="83" y="572" width="1" height="40" fill="#c0c0c0"/>
<rect x="87" y="573" width="1" height="39" fill="#c0c0c0"/>
<rect x="91" y="574" width="1" height="38" fill="#c0c0c0"/>
<rect x="95" y="574" width="1" height="38" fill="#c0c0c0"/>
<rect x="99" y="575" width="1" height="37" fill="#c0c0c0"/>
<rect x="103" y="578" width="1" height="34" fill="#c0c0c0"/>
<rect x="107" y="579" width="1" height="33" fill="#c0c0c0"/>
<rect x="111" y="577" width="1" height="35" fill="#c0c0c0"/>
<rect x="115" y="576" width="1" height="36" fill="#c0c0c0"/>
<rect x="119" y="574" width="1" height="38" fill="#c0c0c0"/>
<rect x="123" y="574" width="1" height="38" fill="#c0c0c0"/>
<rect x="127" y="574" width="1" height="38" fill="#c0c0c0"/>
<rect x="131" y="576" width="1" height="36" fill="#c0c0c0"/>
<rect x="135" y="576" width="1" height="36" fill="#c0c0c0"/>
<rect x="139" y="575" width="1" height="37" fill="#c0c0c0"/>
<rect x="143" y="576" width="1" height="36" fill="#c0c0c0"/>
<rect x="147" y="577" width="1" height="35" fill="#c0c0c0"/>
<rect x="151" y="576" width="1" height="36" fill="#c0c0c0"/>
<rect x="155" y="574" width="1" height="38" fill="#c0c0c0"/>
<rect x="159" y="570" width="1" height="42" fill="#c0c0c0"/>
<rect x="163" y="572" width="1" height="40" fill="#c0c0c0"/>
<rect x="167" y="572" width="1" height="40" fill="#c0c0c0"/>
<rect x="171" y="574" width="1" height="38" fill="#c0c0c0"/>
<rect x="175" y="574" width="1" height="38" fill="#c0c0c0"/>
<rect x="179" y="577" width="1" height="35" fill="#c0c0c0"/>
<rect x="183" y="580" width="1" height="32" fill="#c0c0c0"/>
<rect x="187" y="579" width="1" height="33" fill="#c0c0c0"/>
<rect x="191" y="580" width="1" height="32" fill="#c0c0c0"/>
<rect x="195" y="580" width="1" height="32" fill="#c0c0c0"/>
<rect x="199" y="578" width="1" height="34" fill="#c0c0c0"/>
<rect x="203" y="580" width="1" height="32" fill="#c0c0c0"/>
<rect x="207" y="581" width="1" height="31" fill="#c0c0c0"/>
<rect x="211" y="582" width="1" height="30" fill="#c0c0c0"/>
<rect x="215" y="588" width="1" height="24" fill="#c0c0c0"/>
<rect x="219" y="592" width="1" height="20" fill="#c0c0c0"/>
<rect x="223" y="600" width="1" height="12" fill="#c0c0c0"/>
<rect x="227" y="605" width="1" height="7" fill="#c0c0c0"/>
<rect x="231" y="609" width="1" height="3" fill="#c0c0c0"/>
<rect x="235" y="611" width="1" height="2" fill="#c0c0c0"/>
<rect x="239" y="611" width="1" height="3" fill="#c0c0c0"/>
<rect x="243" y="611" width="1" height="4" fill="#c0c0c0"/>
<rect x="247" y="611" width="1" height="4" fill="#c0c0c0"/>
<rect x="251" y="611" width="1" height="4" fill="#c0c0c0"/>
<rect x="255" y="611" width="1" height="7" fill="#c0c0c0"/>
<rect x="259" y="611" width="1" height="7" fill="#c0c0c0"/>
<rect x="263" y="611" width="1" height="5" fill="#c0c0c0"/>
<rect x="267" y="611" width="1" height="5" fill="#c0c0c0"/>
<rect x="271" y="611" width="1" height="5" fill="#c0c0c0"/>
<rect x="275" y="611" width="1" height="5" fill="#c0c0c0"/>
<rect x="279" y="611" width="1" height="5" fill="#c0c0c0"/>
<rect x="283" y="611" width="1" height="7" fill="#c0c0c0"/>
<rect x="287" y="611" width="1" height="11" fill="#c0c0c0"/>
<rect x="291" y="611" width="1" height="14" fill="#c0c0c0"/>
<rect x="295" y="611" width="1" height="16" fill="#c0c0c0"/>
<rect x="299" y="611" width="1" height="16" fill="#c0c0c0"/>
<rect x="303" y="611" width="1" height="15" fill="#c0c0c0"/>
<rect x="307" y="611" width="1" height="14" fill="#c0c0c0"/>
<rect x="311" y="611" width="1" height="11" fill="#c0c0c0"/>
<rect x="315" y="611" width="1" height="8" fill="#c0c0c0"/>
<rect x="319" y="611" width="1" height="9" fill="#c0c0c0"/>
<rect x="323" y="611" width="1" height="10" fill="#c0c0c0"/>
<rect x="327" y="611" width="1" height="9" fill="#c0c0c0"/>
<rect x="331" y="611" width="1" height="13" fill="#c0c0c0"/>
<rect x="335" y="611" width="1" height="11" fill="#c0c0c0"/>
<rect x="339" y="611" width="1" height="10" fill="#c0c0c0"/>
<rect x="343" y="611" width="1" height="14" fill="#c0c0c0"/>
<rect x="347" y="611" width="1" height="16" fill="#c0c0c0"/>
<rect x="351" y="611" width="1" height="13" fill="#c0c0c0"/>
<rect x="355" y="611" width="1" height="15" fill="#c0c0c0"/>
<rect x="359" y="611" width="1" height="18" fill="#c0c0c0"/>
<rect x="363" y="611" width="1" height="20" fill="#c0c0c0"/>
<rect x="367" y="611" width="1" height="24" fill="#c0c0c0"/>
<rect x="371" y="611" width="1" height="25" fill="#c0c0c0"/>
<rect x="375" y="611" width="1" height="22" fill="#c0c0c0"/>
<rect x="379" y="611" width="1" height="21" fill="#c0c0c0"/>
<rect x="383" y="611" width="1" height="20" fill="#c0c0c0"/>
<rect x="387" y="611" width="1" height="20" fill="#c0c0c0"/>
<rect x="391" y="611" width="1" height="23" fill="#c0c0c0"/>
<rect x="395" y="611" width="1" height="24" fill="#c0c0c0"/>
<rect x="399" y="611" width="1" height="29" fill="#c0c0c0"/>
<rect x="403" y="611" width="1" height="27" fill="#c0c0c0"/>
<rect x="407" y="611" width="1" height="24" fill="#c0c0c0"/>
<rect x="411" y="611" width="1" height="22" fill="#c0c0c0"/>
<rect x="415" y="611" width="1" height="22" fill="#c0c0c0"/>
<rect x="419" y="611" width="1" height="18" fill="#c0c0c0"/>
<rect x="423" y="611" width="1" height="13" fill="#c0c0c0"/>
<rect x="427" y="611" width="1" height="7" fill="#c0c0c0"/>
<rect x="431" y="611" width="1" height="2" fill="#c0c0c0"/>
<rect x="435" y="607" width="1" height="5" fill="#c0c0c0"/>
<rect x="439" y="602" width="1" height="10" fill="#c0c0c0"/>
<rect x="443" y="599" width="1" height="13" fill="#c0c0c0"/>
<rect x="447" y="598" width="1" height="14" fill="#c0c0c0"/>
<rect x="451" y="596" width="1" height="16" fill="#c0c0c0"/>
<rect x="455" y="597" width="1" height="15" fill="#c0c0c0"/>
<rect x="459" y="598" width="1" height="14" fill="#c0c0c0"/>
<rect x="463" y="600" width="1" height="12" fill="#c0c0c0"/>
<rect x="467" y="599" width="1" height="13" fill="#c0c0c0"/>
<rect x="471" y="600" width="1" height="12" fill="#c0c0c0"/>
<rect x="475" y="600" width="1" height="12" fill="#c0c0c0"/>
<rect x="479" y="599" width="1" height="13" fill="#c0c0c0"/>
<rect x="483" y="599" width="1" height="13" fill="#c0c0c0"/>
<rect x="487" y="598" width="1" height="14" fill="#c0c0c0"/>
<rect x="491" y="596" width="1" height="16" fill="#c0c0c0"/>
<rect x="495" y="593" width="1" height="19" fill="#c0c0c0"/>
<rect x="499" y="590" width="1" height="22" fill="#c0c0c0"/>
<rect x="503" y="590" width="1" height="22" fill="#c0c0c0"/>
<rect x="507" y="591" width="1" height="21" fill="#c0c0c0"/>
<rect x="511" y="589" width="1" height="23" fill="#c0c0c0"/>
<rect x="515" y="586" width="1" height="26" fill="#c0c0c0"/>
<rect x="519" y="583" width="1" height="29" fill="#c0c0c0"/>
<rect x="523" y="583" width="1" height="29" fill="#c0c0c0"/>
<rect x="527" y="584" width="1" height="28" fill="#c0c0c0"/>
<rect x="531" y="584" width="1" height="28" fill="#c0c0c0"/>
<rect x="535" y="585" width="1" height="27" fill="#c0c0c0"/>
<rect x="539" y="588" width="1" height="24" fill="#c0c0c0"/>
<rect x="543" y="592" width="1" height="20" fill="#c0c0c0"/>
<rect x="547" y="594" width="1" height="18" fill="#c0c0c0"/>
<rect x="551" y="596" width="1" height="16" fill="#c0c0c0"/>
<rect x="555" y="599" width="1" height="13" fill="#c0c0c0"/>
<rect x="559" y="600" width="1" height="12" fill="#c0c0c0"/>
<rect x="563" y="602" width="1" height="10" fill="#c0c0c0"/>
<rect x="567" y="603" width="1" height="9" fill="#c0c0c0"/>
<rect x="571" y="606" width="1" height="6" fill="#c0c0c0"/>
<rect x="575" y="607" width="1" height="5" fill="#c0c0c0"/>
<rect x="579" y="608" width="1" height="4" fill="#c0c0c0"/>
<rect x="583" y="609" width="1" height="3" fill="#c0c0c0"/>
<rect x="587" y="606" width="1" height="6" fill="#c0c0c0"/>
<rect x="591" y="605" width="1" height="7" fill="#c0c0c0"/>
<rect x="595" y="599" width="1" height="13" fill="#c0c0c0"/>
<rect x="599" y="598" width="1" height="14" fill="#c0c0c0"/>
<rect x="603" y="596" width="1" height="16" fill="#c0c0c0"/>
<rect x="607" y="594" width="1" height="18" fill="#c0c0c0"/>
<rect x="611" y="594" width="1" height="18" fill="#c0c0c0"/>
<rect x="615" y="596" width="1" height="16" fill="#c0c0c0"/>
<rect x="619" y="598" width="1" height="14" fill="#c0c0c0"/>
<rect x="623" y="601" width="1" height="11" fill="#c0c0c0"/>
<rect x="627" y="603" width="1" height="9" fill="#c0c0c0"/>
<rect x="631" y="605" width="1" height="7" fill="#c0c0c0"/>
<rect x="635" y="608" width="1" height="4" fill="#c0c0c0"/>
<rect x="639" y="611" width="1" height="6" fill="#c0c0c0"/>
<rect x="643" y="611" width="1" height="11" fill="#c0c0c0"/>
<rect x="647" y="611" width="1" height="13" fill="#c0c0c0"/>
<rect x="651" y="611" width="1" height="15" fill="#c0c0c0"/>
<rect x="655" y="611" width="1" height="17" fill="#c0c0c0"/>
<rect x="659" y="611" width="1" height="18" fill="#c0c0c0"/>
<rect x="663" y="611" width="1" height="18" fill="#c0c0c0"/>
<rect x="667" y="611" width="1" height="18" fill="#c0c0c0"/>
<rect x="671" y="611" width="1" height="17" fill="#c0c0c0"/>
<rect x="675" y="611" width="1" height="16" fill="#c0c0c0"/>
<rect x="679" y="611" width="1" height="13" fill="#c0c0c0"/>
<rect x="683" y="611" width="1" height="12" fill="#c0c0c0"/>
<rect x="687" y="611" width="1" height="11" fill="#c0c0c0"/>
<rect x="691" y="611" width="1" height="8" fill="#c0c0c0"/>
<rect x="695" y="611" width="1" height="6" fill="#c0c0c0"/>
<rect x="699" y="611" width="1" height="4" fill="#c0c0c0"/>
<rect x="703" y="611" width="1" height="3" fill="#c0c0c0"/>
<rect x="707" y="611" width="1" height="2" fill="#c0c0c0"/>
<rect x="711" y="610" width="1" height="2" fill="#c0c0c0"/>
<rect x="715" y="608" width="1" height="4" fill="#c0c0c0"/>
<rect x="719" y="607" width="1" height="5" fill="#c0c0c0"/>
<rect x="723" y="606" width="1" height="6" fill="#c0c0c0"/>
<rect x="727" y="604" width="1" height="8" fill="#c0c0c0"/>
<rect x="731" y="601" width="1" height="11" fill="#c0c0c0"/>
<rect x="735" y="597" width="1" height="15" fill="#c0c0c0"/>
<rect x="739" y="591" width="1" height="21" fill="#c0c0c0"/>
<rect x="743" y="587" width="1" height="25" fill="#c0c0c0"/>
<rect x="747" y="584" width="1" height="28" fill="#c0c0c0"/>
<rect x="751" y="579" width="1" height="33" fill="#c0c0c0"/>
<rect x="755" y="575" width="1" height="37" fill="#c0c0c0"/>
<rect x="759" y="573" width="1" height="39" fill="#c0c0c0"/>
<rect x="763" y="572" width="1" height="40" fill="#c0c0c0"/>
<rect x="767" y="572" width="1" height="40" fill="#c0c0c0"/>
<rect x="771" y="572" width="1" height="40" fill="#c0c0c0"/>
<rect x="775" y="573" width="1" height="39" fill="#c0c0c0"/>
<rect x="779" y="575" width="1" height="37" fill="#c0c0c0"/>
<rect x="783" y="575" width="1" height="37" fill="#c0c0c0"/>
<rect x="787" y="578" width="1" height="34" fill="#c0c0c0"/>
<rect x="791" y="580" width="1" height="32" fill="#c0c0c0"/>
<rect x="795" y="582" width="1" height="30" fill="#c0c0c0"/>
<rect x="799" y="583" width="1" height="29" fill="#c0c0c0"/>
<rect x="803" y="583" width="1" height="29" fill="#c0c0c0"/>
<rect x="807" y="587" width="1" height="25" fill="#c0c0c0"/>
<rect x="811" y="591" width="1" height="21" fill="#c0c0c0"/>
<rect x="815" y="597" width="1" height="15" fill="#c0c0c0"/>
<rect x="819" y="604" width="1" height="8" fill="#c0c0c0"/>
<rect x="823" y="607" width="1" height="5" fill="#c0c0c0"/>
<rect x="827" y="611" width="1" height="1" fill="#c0c0c0"/>
<rect x="831" y="611" width="1" height="2" fill="#c0c0c0"/>
<rect x="835" y="611" width="1" height="3" fill="#c0c0c0"/>
<rect x="839" y="611" width="1" height="3" fill="#c0c0c0"/>
<rect x="843" y="611" width="1" height="5" fill="#c0c0c0"/>
<rect x="847" y="611" width="1" height="5" fill="#c0c0c0"/>
<rect x="851" y="611" width="1" height="6" fill="#c0c0c0"/>
<rect x="855" y="611" width="1" height="10" fill="#c0c0c0"/>
<rect x="859" y="611" width="1" height="14" fill="#c0c0c0"/>
<rect x="863" y="611" width="1" height="17" fill="#c0c0c0"/>
<rect x="867" y="611" width="1" height="18" fill="#c0c0c0"/>
<rect x="871" y="611" width="1" height="17" fill="#c0c0c0"/>
<rect x="875" y="611" width="1" height="15" fill="#c0c0c0"/>
<rect x="879" y="611" width="1" height="14" fill="#c0c0c0"/>
<rect x="883" y="611" width="1" height="17" fill="#c0c0c0"/>
<rect x="887" y="611" width="1" height="20" fill="#c0c0c0"/>
<rect x="891" y="611" width="1" height="25" fill="#c0c0c0"/>
<rect x="895" y="611" width="1" height="30" fill="#c0c0c0"/>
<rect x="899" y="611" width="1" height="32" fill="#c0c0c0"/>
<rect x="903" y="611" width="1" height="35" fill="#c0c0c0"/>
<rect x="907" y="611" width="1" height="40" fill="#c0c0c0"/>
<rect x="911" y="611" width="1" height="41" fill="#c0c0c0"/>
<rect x="915" y="611" width="1" height="42" fill="#c0c0c0"/>
<rect x="919" y="611" width="1" height="40" fill="#c0c0c0"/>
<rect x="923" y="611" width="1" height="37" fill="#c0c0c0"/>
<rect x="927" y="611" width="1" height="35" fill="#c0c0c0"/>
<rect x="931" y="611" width="1" height="30" fill="#c0c0c0"/>
<rect x="935" y="611" width="1" height="26" fill="#c0c0c0"/>
<rect x="939" y="611" width="1" height="22" fill="#c0c0c0"/>
<rect x="943" y="611" width="1" height="18" fill="#c0c0c0"/>
<rect x="947" y="611" width="1" height="19" fill="#c0c0c0"/>
<rect x="951" y="611" width="1" height="27" fill="#c0c0c0"/>
<rect x="955" y="611" width="1" height="35" fill="#c0c0c0"/>
<rect x="959" y="611" width="1" height="42" fill="#c0c0c0"/>
<rect x="963" y="611" width="1" height="48" fill="#c0c0c0"/>
<rect x="967" y="611" width="1" height="51" fill="#c0c0c0"/>
<rect x="971" y="611" width="1" height="52" fill="#c0c0c0"/>
<rect x="975" y="611" width="1" height="52" fill="#c0c0c0"/>
<rect x="979" y="611" width="1" height="52" fill="#c0c0c0"/>
<rect x="983" y="611" width="1" height="49" fill="#c0c0c0"/>
<rect x="987" y="611" width="1" height="42" fill="#c0c0c0"/>
<rect x="991" y="611" width="1" height="37" fill="#c0c0c0"/>
<rect x="995" y="611" width="1" height="33" fill="#c0c0c0"/>
<rect x="999" y="611" width="1" height="30" fill="#c0c0c0"/>
<rect x="1003" y="611" width="1" height="23" fill="#c0c0c0"/>
<rect x="1007" y="611" width="1" height="17" fill="#c0c0c0"/>
<rect x="1011" y="611" width="1" height="11" fill="#c0c0c0"/>
<rect x="1015" y="611" width="1" height="7" fill="#c0c0c0"/>
<rect x="1019" y="611" width="1" height="6" fill="#c0c0c0"/>
<rect x="1023" y="611" width="1" height="4" fill="#c0c0c0"/>
<rect x="1027" y="611" width="1" height="7" fill="#c0c0c0"/>
<rect x="1031" y="611" width="1" height="8" fill="#c0c0c0"/>
<rect x="1035" y="611" width="1" height="9" fill="#c0c0c0"/>
<rect x="1039" y="611" width="1" height="8" fill="#c0c0c0"/>
<rect x="1043" y="611" width="1" height="8" fill="#c0c0c0"/>
<rect x="1047" y="611" width="1" height="10" fill="#c0c0c0"/>
<rect x="1051" y="611" width="1" height="11" fill="#c0c0c0"/>
<rect x="1055" y="611" width="1" height="12" fill="#c0c0c0"/>
<rect x="1059" y="611" width="1" height="13" fill="#c0c0c0"/>
<rect x="1063" y="611" width="1" height="12" fill="#c0c0c0"/>
<rect x="1067" y="611" width="1" height="11" fill="#c0c0c0"/>
<rect x="1071" y="611" width="1" height="7" fill="#c0c0c0"/>
<rect x="1075" y="611" width="1" height="2" fill="#c0c0c0"/>
<rect x="1079" y="608" width="1" height="4" fill="#c0c0c0"/>
<rect x="1083" y="606" width="1" height="6" fill="#c0c0c0"/>
<rect x="1087" y="606" width="1" height="6" fill="#c0c0c0"/>
<rect x="1091" y="603" width="1" height="9" fill="#c0c0c0"/>
<rect x="1095" y="604" width="1" height="8" fill="#c0c0c0"/>
<rect x="1099" y="609" width="1" height="3" fill="#c0c0c0"/>
<rect x="1103" y="611" width="1" height="2" fill="#c0c0c0"/>
<rect x="1107" y="611" width="1" height="12" fill="#c0c0c0"/>
<rect x="1111" y="611" width="1" height="17" fill="#c0c0c0"/>
<rect x="1115" y="611" width="1" height="21" fill="#c0c0c0"/>
<rect x="1119" y="611" width="1" height="24" fill="#c0c0c0"/>
<rect x="1123" y="611" width="1" height="27" fill="#c0c0c0"/>
<rect x="1127" y="611" width="1" height="30" fill="#c0c0c0"/>
<rect x="1131" y="611" width="1" height="32" fill="#c0c0c0"/>
</g>
<path d="M7 650h3v1h-3zM13 650h3v1h-3zM19 650h3v1h-3zM25 650h3v1h-3zM31 650h3v1h-3zM37 649h3v1h-3zM43 647h1v1h-1zM44 646h2v1h-2zM49 642h1v1h-1zM50 641h1v1h-1zM51 640h1v1h-1zM55 636h1v1h-1zM56 634h1v2h-1zM59 630h1v1h-1zM60 628h1v2h-1zM62 624h1v1h-1zM63 623h1v1h-1zM64 622h1v1h-1zM66 617h1v2h-1zM67 616h1v1h-1zM69 612h1v1h-1zM70 610h1v2h-1zM73 605h1v2h-1zM74 604h1v1h-1zM76 600h1v1h-1zM77 598h1v2h-1zM80 593h1v2h-1zM81 592h1v1h-1zM84 588h1v1h-1zM85 586h1v2h-1zM89 582h1v1h-1zM90 581h1v1h-1zM91 580h1v1h-1zM95 577h2v1h-2zM97 576h1v1h-1zM101 575h3v1h-3zM107 574h3v1h-3zM113 574h1v1h-1zM114 575h2v1h-2zM119 575h3v1h-3zM125 575h3v1h-3zM131 575h3v1h-3zM137 575h3v1h-3zM143 575h3v1h-3zM149 575h3v1h-3zM155 575h3v1h-3zM161 575h1v1h-1zM162 574h2v1h-2zM167 574h3v1h-3zM173 574h3v1h-3zM179 574h3v1h-3zM185 574h3v1h-3zM191 575h3v1h-3zM197 576h1v1h-1zM198 577h2v1h-2zM203 578h3v1h-3zM209 578h1v1h-1zM210 579h2v1h-2zM215 580h2v1h-2zM217 581h1v1h-1zM221 583h2v1h-2zM223 584h1v1h-1zM227 587h1v1h-1zM228 588h2v1h-2zM233 592h1v1h-1zM234 593h1v1h-1zM235 594h1v1h-1zM239 597h1v1h-1zM240 598h1v1h-1zM241 599h1v1h-1zM245 603h1v1h-1zM246 604h1v1h-1zM247 605h1v1h-1zM251 607h1v1h-1zM252 608h2v1h-2zM257 611h2v1h-2zM259 612h1v1h-1zM263 613h3v1h-3zM269 614h3v1h-3zM275 614h3v1h-3zM281 614h1v1h-1zM282 615h2v1h-2zM287 616h3v1h-3zM293 617h1v1h-1zM294 618h2v1h-2zM299 619h3v1h-3zM305 620h1v1h-1zM306 621h2v1h-2zM311 622h3v1h-3zM317 622h3v1h-3zM323 622h3v1h-3zM329 622h1v1h-1zM330 621h2v1h-2zM335 621h3v1h-3zM341 620h3v1h-3zM347 621h3v1h-3zM353 621h1v1h-1zM354 622h2v1h-2zM359 623h3v1h-3zM365 624h1v1h-1zM366 625h2v1h-2zM371 627h3v1h-3zM377 628h1v1h-1zM378 629h2v1h-2zM383 629h3v1h-3zM389 630h1v1h-1zM390 631h2v1h-2zM395 632h3v1h-3zM401 633h3v1h-3zM407 633h3v1h-3zM413 633h3v1h-3zM419 633h3v1h-3zM425 631h2v1h-2zM427 630h1v1h-1zM431 628h1v1h-1zM432 627h1v1h-1zM433 626h1v1h-1zM437 622h1v1h-1zM438 621h1v1h-1zM439 620h1v1h-1zM443 616h1v1h-1zM444 615h2v1h-2zM449 611h1v1h-1zM450 610h1v1h-1zM451 609h1v1h-1zM455 605h1v1h-1zM456 604h2v1h-2zM461 602h1v1h-1zM462 601h2v1h-2zM467 599h3v1h-3zM473 598h3v1h-3zM479 598h3v1h-3zM485 598h3v1h-3zM491 598h3v1h-3zM497 598h1v1h-1zM498 597h2v1h-2zM503 596h3v1h-3zM509 594h2v1h-2zM511 593h1v1h-1zM515 592h2v1h-2zM517 591h1v1h-1zM521 590h1v1h-1zM522 589h2v1h-2zM527 587h3v1h-3zM533 586h3v1h-3zM539 586h3v1h-3zM545 586h3v1h-3zM551 587h2v1h-2zM553 588h1v1h-1zM557 590h2v1h-2zM559 591h1v1h-1zM563 593h2v1h-2zM565 594h1v1h-1zM569 596h2v1h-2zM571 597h1v1h-1zM575 599h2v1h-2zM577 600h1v1h-1zM581 602h2v1h-2zM583 603h1v1h-1zM587 604h3v1h-3zM593 605h1v1h-1zM594 604h2v1h-2zM599 604h3v1h-3zM605 603h1v1h-1zM606 602h2v1h-2zM611 600h3v1h-3zM617 599h1v1h-1zM618 598h2v1h-2zM623 597h3v1h-3zM629 597h1v1h-1zM630 598h2v1h-2zM635 599h2v1h-2zM637 600h1v1h-1zM641 602h1v1h-1zM642 603h1v1h-1zM643 604h1v1h-1zM647 607h1v1h-1zM648 608h2v1h-2zM653 612h1v1h-1zM654 613h1v1h-1zM655 614h1v1h-1zM659 617h1v1h-1zM660 618h2v1h-2zM665 621h2v1h-2zM667 622h1v1h-1zM671 624h3v1h-3zM677 625h1v1h-1zM678 626h2v1h-2zM683 625h3v1h-3zM689 625h1v1h-1zM690 624h2v1h-2zM695 623h2v1h-2zM697 622h1v1h-1zM701 620h2v1h-2zM703 619h1v1h-1zM707 618h2v1h-2zM709 617h1v1h-1zM713 615h2v1h-2zM715 614h1v1h-1zM719 613h2v1h-2zM721 612h1v1h-1zM725 611h1v1h-1zM726 610h2v1h-2zM731 608h2v1h-2zM733 607h1v1h-1zM737 605h1v1h-1zM738 604h1v1h-1zM739 603h1v1h-1zM743 601h1v1h-1zM744 600h2v1h-2zM749 596h1v1h-1zM750 595h1v1h-1zM751 594h1v1h-1zM755 591h1v1h-1zM756 590h1v1h-1zM757 589h1v1h-1zM761 586h1v1h-1zM762 585h1v1h-1zM763 584h1v1h-1zM767 580h2v1h-2zM769 579h1v1h-1zM773 577h2v1h-2zM775 576h1v1h-1zM779 574h3v1h-3zM785 573h3v1h-3zM791 574h3v1h-3zM797 575h1v1h-1zM798 576h2v1h-2zM803 577h2v1h-2zM805 578h1v1h-1zM809 580h2v1h-2zM811 581h1v1h-1zM815 584h1v1h-1zM816 585h2v1h-2zM821 588h1v1h-1zM822 589h1v1h-1zM823 590h1v1h-1zM827 593h1v1h-1zM828 594h1v1h-1zM829 595h1v1h-1zM833 598h1v1h-1zM834 599h1v1h-1zM835 600h1v1h-1zM839 603h1v1h-1zM840 604h2v1h-2zM845 607h1v1h-1zM846 608h1v1h-1zM847 609h1v1h-1zM851 611h2v1h-2zM853 612h1v1h-1zM857 614h2v1h-2zM859 615h1v1h-1zM863 617h3v1h-3zM869 619h2v1h-2zM871 620h1v1h-1zM875 621h3v1h-3zM881 623h2v1h-2zM883 624h1v1h-1zM887 625h2v1h-2zM889 626h1v1h-1zM893 628h2v1h-2zM895 629h1v1h-1zM899 630h2v1h-2zM901 631h1v1h-1zM905 633h1v1h-1zM906 634h1v1h-1zM907 635h1v1h-1zM911 638h1v1h-1zM912 639h2v1h-2zM917 642h2v1h-2zM919 643h1v1h-1zM923 645h3v1h-3zM929 646h1v1h-1zM930 647h2v1h-2zM935 646h2v1h-2zM937 645h1v1h-1zM941 643h2v1h-2zM943 642h1v1h-1zM947 640h2v1h-2zM949 639h1v1h-1zM953 638h1v1h-1zM954 637h2v1h-2zM959 638h3v1h-3zM965 640h1v1h-1zM966 641h1v1h-1zM967 642h1v1h-1zM971 644h1v1h-1zM972 645h1v1h-1zM973 646h1v1h-1zM977 650h1v1h-1zM978 651h1v1h-1zM979 652h1v1h-1zM983 655h2v1h-2zM985 656h1v1h-1zM989 657h3v1h-3zM995 656h2v1h-2zM997 655h1v1h-1zM1001 653h1v1h-1zM1002 652h1v1h-1zM1003 651h1v1h-1zM1007 647h1v1h-1zM1008 646h1v1h-1zM1009 645h1v1h-1zM1012 641h1v1h-1zM1013 639h1v2h-1zM1017 634h1v2h-1zM1018 633h1v1h-1zM1022 629h1v1h-1zM1023 628h1v1h-1zM1024 627h1v1h-1zM1028 624h2v1h-2zM1030 623h1v1h-1zM1034 621h1v1h-1zM1035 620h2v1h-2zM1040 618h2v1h-2zM1042 617h1v1h-1zM1046 617h3v1h-3zM1052 618h3v1h-3zM1058 619h3v1h-3zM1064 620h3v1h-3zM1070 620h3v1h-3zM1076 619h2v1h-2zM1078 618h1v1h-1zM1082 617h3v1h-3zM1088 615h1v1h-1zM1089 614h2v1h-2zM1094 612h1v1h-1zM1095 611h2v1h-2zM1100 609h2v1h-2zM1102 608h1v1h-1zM1106 609h3v1h-3zM1112 611h2v1h-2zM1114 612h1v1h-1zM1118 615h1v1h-1zM1119 616h1v1h-1zM1120 617h1v1h-1zM1124 620h1v1h-1zM1125 621h1v2h-1zM1129 626h1v1h-1zM1130 627h1v1h-1zM1131 628h1v1h-1z" fill="#ff0000" shape-rendering="crispEdges"/>
<path d="M7 756h2v1h-2zM9 755h2v1h-2zM11 753h1v2h-1zM12 751h1v2h-1zM13 749h1v2h-1zM14 747h1v2h-1zM15 746h1v2h-1zM16 748h1v2h-1zM17 750h1v3h-1zM18 753h1v2h-1zM19 755h1v2h-1zM20 756h7v1h-7zM27 755h1v2h-1zM28 752h1v3h-1zM29 749h1v3h-1zM30 746h1v3h-1zM31 744h1v2h-1zM32 744h2v1h-2zM34 743h5v1h-5zM39 741h1v3h-1zM40 737h1v4h-1zM41 732h1v5h-1zM42 728h1v4h-1zM43 725h1v3h-1zM44 724h2v1h-2zM46 723h1v1h-1zM47 722h1v1h-1zM48 721h2v1h-2zM50 720h1v1h-1zM51 719h2v1h-2zM53 718h2v1h-2zM55 717h4v1h-4zM59 716h1v2h-1zM60 714h1v2h-1zM61 712h1v2h-1zM62 710h1v2h-1zM63 709h3v1h-3zM66 710h12v1h-12zM78 709h3v1h-3zM81 710h2v1h-2zM83 711h1v2h-1zM84 713h1v2h-1zM85 715h1v2h-1zM86 717h1v2h-1zM87 719h2v1h-2zM89 718h2v1h-2zM91 717h3v1h-3zM94 716h5v1h-5zM99 716h1v2h-1zM100 718h1v2h-1zM101 720h1v3h-1zM102 723h1v2h-1zM103 725h1v2h-1zM104 724h1v2h-1zM105 723h1v1h-1zM106 721h1v2h-1zM107 720h1v1h-1zM108 718h1v2h-1zM109 717h1v1h-1zM110 715h1v2h-1zM111 714h2v1h-2zM113 713h2v1h-2zM115 712h3v1h-3zM118 711h3v1h-3zM121 712h2v1h-2zM123 713h3v1h-3zM126 714h2v1h-2zM128 715h2v1h-2zM130 716h1v1h-1zM131 717h1v1h-1zM132 716h2v1h-2zM134 715h1v1h-1zM135 714h1v1h-1zM136 713h1v1h-1zM137 712h1v1h-1zM138 711h1v1h-1zM139 710h1v2h-1zM140 712h1v2h-1zM141 714h1v2h-1zM142 716h1v2h-1zM143 718h3v1h-3zM146 717h2v1h-2zM148 715h1v2h-1zM149 714h1v1h-1zM150 712h1v2h-1zM151 711h1v1h-1zM152 710h1v1h-1zM153 708h1v2h-1zM154 707h1v1h-1zM155 706h1v1h-1zM156 705h2v1h-2zM158 704h1v1h-1zM159 703h1v3h-1zM160 706h1v4h-1zM161 710h1v4h-1zM162 714h1v4h-1zM163 718h1v2h-1zM164 718h2v1h-2zM166 717h1v1h-1zM167 716h1v1h-1zM168 717h1v1h-1zM169 718h1v2h-1zM170 720h1v1h-1zM171 721h1v1h-1zM172 720h2v1h-2zM174 719h1v1h-1zM175 718h1v1h-1zM176 719h1v2h-1zM177 721h1v2h-1zM178 723h1v2h-1zM179 725h3v1h-3zM182 724h2v1h-2zM184 722h1v2h-1zM185 721h1v1h-1zM186 719h1v2h-1zM187 718h3v1h-3zM190 719h4v1h-4zM194 718h2v1h-2zM196 716h1v2h-1zM197 715h1v1h-1zM198 713h1v2h-1zM199 712h1v2h-1zM200 714h1v3h-1zM201 717h1v2h-1zM202 719h1v3h-1zM203 722h1v2h-1zM204 723h5v1h-5zM209 722h2v1h-2zM211 721h1v2h-1zM212 723h1v4h-1zM213 727h1v4h-1zM214 731h1v4h-1zM215 735h1v2h-1zM216 736h2v1h-2zM218 737h1v1h-1zM219 737h1v2h-1zM220 739h1v2h-1zM221 741h1v3h-1zM222 744h1v2h-1zM223 746h1v2h-1zM224 746h1v1h-1zM225 745h1v1h-1zM226 744h1v1h-1zM227 743h3v1h-3zM230 744h4v1h-4zM234 743h2v1h-2zM236 741h1v2h-1zM237 740h1v1h-1zM238 738h1v2h-1zM239 737h3v1h-3zM242 738h3v1h-3zM245 737h2v1h-2zM247 736h3v1h-3zM250 735h1v1h-1zM251 735h1v2h-1zM252 737h1v2h-1zM253 739h1v3h-1zM254 742h1v2h-1zM255 744h1v2h-1zM256 743h1v2h-1zM257 742h1v1h-1zM258 740h1v2h-1zM259 738h1v2h-1zM260 736h1v2h-1zM261 734h1v2h-1zM262 732h1v2h-1zM263 731h1v1h-1zM264 732h2v1h-2zM266 733h1v1h-1zM267 734h3v1h-3zM270 735h4v1h-4zM274 736h4v1h-4zM278 737h1v1h-1zM279 737h1v2h-1zM280 739h1v2h-1zM281 741h1v2h-1zM282 743h1v2h-1zM283 745h1v1h-1zM284 746h1v2h-1zM285 748h1v2h-1zM286 750h1v2h-1zM287 752h3v1h-3zM290 751h5v1h-5zM295 750h1v2h-1zM296 748h1v2h-1zM297 745h1v3h-1zM298 743h1v2h-1zM299 741h1v2h-1zM300 741h2v1h-2zM302 742h2v1h-2zM304 741h2v1h-2zM306 740h1v1h-1zM307 738h1v2h-1zM308 736h1v2h-1zM309 733h1v3h-1zM310 731h1v2h-1zM311 729h1v2h-1zM312 729h2v1h-2zM314 730h1v1h-1zM315 730h1v2h-1zM316 732h1v3h-1zM317 735h1v2h-1zM318 737h1v3h-1zM319 740h1v2h-1zM320 741h2v1h-2zM322 742h2v1h-2zM324 741h1v1h-1zM325 740h1v1h-1zM326 739h1v1h-1zM327 738h1v2h-1zM328 740h1v3h-1zM329 743h1v4h-1zM330 747h1v3h-1zM331 749h1v3h-1zM332 745h1v4h-1zM333 741h1v4h-1zM334 737h1v4h-1zM335 734h1v3h-1zM336 734h1v1h-1zM337 735h2v1h-2zM339 736h1v2h-1zM340 738h1v3h-1zM341 741h1v3h-1zM342 744h1v3h-1zM343 747h1v2h-1zM344 748h2v1h-2zM346 747h1v1h-1zM347 746h1v2h-1zM348 742h1v4h-1zM349 739h1v3h-1zM350 735h1v4h-1zM351 733h1v2h-1zM352 735h1v2h-1zM353 737h1v3h-1zM354 740h1v2h-1zM355 742h1v2h-1zM356 743h1v1h-1zM357 744h2v1h-2zM359 745h2v1h-2zM361 746h2v1h-2zM363 747h1v1h-1zM364 748h2v1h-2zM366 749h1v1h-1zM367 750h1v1h-1zM368 749h2v1h-2zM370 748h1v1h-1zM371 746h1v2h-1zM372 743h1v3h-1zM373 741h1v2h-1zM374 738h1v3h-1zM375 736h1v2h-1zM376 737h2v1h-2zM378 738h1v1h-1zM379 739h3v1h-3zM382 740h4v1h-4zM386 741h1v1h-1zM387 741h1v2h-1zM388 743h1v2h-1zM389 745h1v2h-1zM390 747h1v2h-1zM391 749h1v1h-1zM392 748h2v1h-2zM394 747h1v1h-1zM395 746h1v2h-1zM396 748h1v2h-1zM397 750h1v2h-1zM398 752h1v2h-1zM399 752h1v3h-1zM400 748h1v4h-1zM401 744h1v4h-1zM402 740h1v4h-1zM403 738h1v2h-1zM404 738h8v1h-8zM412 739h1v1h-1zM413 740h1v1h-1zM414 741h1v1h-1zM415 741h1v2h-1zM416 739h1v2h-1zM417 737h1v2h-1zM418 735h1v2h-1zM419 733h1v2h-1zM420 732h1v1h-1zM421 731h1v1h-1zM422 730h1v1h-1zM423 729h1v1h-1zM424 728h1v1h-1zM425 727h1v1h-1zM426 726h1v1h-1zM427 725h3v1h-3zM430 724h4v1h-4zM434 723h3v1h-3zM437 722h2v1h-2zM439 721h3v1h-3zM442 722h2v1h-2zM444 723h2v1h-2zM446 724h1v1h-1zM447 725h5v1h-5zM452 726h1v1h-1zM453 727h1v2h-1zM454 729h1v1h-1zM455 730h3v1h-3zM458 731h3v1h-3zM461 732h2v1h-2zM463 733h1v1h-1zM464 731h1v2h-1zM465 730h1v1h-1zM466 728h1v2h-1zM467 727h2v1h-2zM469 728h2v1h-2zM471 729h3v1h-3zM474 728h3v1h-3zM477 727h2v1h-2zM479 726h3v1h-3zM482 725h2v1h-2zM484 724h1v1h-1zM485 723h1v1h-1zM486 722h1v1h-1zM487 721h1v1h-1zM488 720h1v1h-1zM489 719h1v1h-1zM490 718h1v1h-1zM491 717h1v1h-1zM492 716h1v1h-1zM493 715h1v1h-1zM494 714h1v1h-1zM495 713h4v1h-4zM499 713h1v2h-1zM500 715h1v2h-1zM501 717h1v2h-1zM502 719h1v2h-1zM503 721h3v1h-3zM506 722h1v1h-1zM507 721h1v2h-1zM508 719h1v2h-1zM509 717h1v2h-1zM510 715h1v2h-1zM511 714h1v1h-1zM512 713h2v1h-2zM514 712h1v1h-1zM515 711h1v1h-1zM516 710h1v1h-1zM517 709h1v1h-1zM518 708h1v1h-1zM519 707h1v2h-1zM520 709h1v3h-1zM521 712h1v3h-1zM522 715h1v3h-1zM523 718h1v2h-1zM524 719h6v1h-6zM530 720h5v1h-5zM535 720h1v2h-1zM536 722h1v2h-1zM537 724h1v3h-1zM538 727h1v2h-1zM539 729h1v2h-1zM540 730h1v1h-1zM541 731h2v1h-2zM543 732h2v1h-2zM545 731h2v1h-2zM547 730h1v1h-1zM548 731h2v1h-2zM550 732h1v1h-1zM551 733h3v1h-3zM554 734h4v1h-4zM558 733h4v1h-4zM562 734h2v1h-2zM564 733h2v1h-2zM566 732h1v1h-1zM567 731h1v2h-1zM568 733h1v3h-1zM569 736h1v2h-1zM570 738h1v3h-1zM571 741h1v2h-1zM572 739h1v2h-1zM573 737h1v2h-1zM574 735h1v2h-1zM575 733h1v2h-1zM576 734h1v1h-1zM577 735h1v1h-1zM578 736h1v1h-1zM579 737h2v1h-2zM581 736h2v1h-2zM583 734h1v2h-1zM584 731h1v3h-1zM585 727h1v4h-1zM586 724h1v3h-1zM587 722h1v2h-1zM588 722h2v1h-2zM590 723h1v1h-1zM591 722h1v2h-1zM592 719h1v3h-1zM593 716h1v3h-1zM594 713h1v3h-1zM595 711h1v2h-1zM596 713h1v3h-1zM597 716h1v2h-1zM598 718h1v3h-1zM599 721h1v2h-1zM600 722h1v1h-1zM601 721h2v1h-2zM603 720h1v1h-1zM604 719h1v1h-1zM605 718h1v1h-1zM606 717h1v1h-1zM607 716h1v2h-1zM608 718h1v2h-1zM609 720h1v2h-1zM610 722h1v2h-1zM611 724h1v2h-1zM612 726h1v2h-1zM613 728h1v2h-1zM614 730h1v2h-1zM615 732h1v2h-1zM616 733h4v1h-4zM620 734h2v1h-2zM622 735h1v1h-1zM623 736h6v1h-6zM629 737h2v1h-2zM631 738h1v1h-1zM632 739h1v2h-1zM633 741h1v1h-1zM634 742h1v2h-1zM635 744h1v2h-1zM636 746h1v3h-1zM637 749h1v4h-1zM638 753h1v3h-1zM639 756h1v2h-1zM640 756h2v1h-2zM642 755h1v1h-1zM643 754h1v1h-1zM644 752h1v2h-1zM645 751h1v1h-1zM646 749h1v2h-1zM647 748h5v1h-5zM652 749h2v1h-2zM654 750h1v1h-1zM655 751h1v1h-1zM656 750h1v1h-1zM657 749h1v1h-1zM658 748h1v1h-1zM659 747h1v1h-1zM660 746h2v1h-2zM662 745h1v1h-1zM663 744h5v1h-5zM668 743h2v1h-2zM670 742h1v1h-1zM671 741h3v1h-3zM674 742h1v1h-1zM675 741h1v2h-1zM676 738h1v3h-1zM677 736h1v2h-1zM678 733h1v3h-1zM679 731h1v2h-1zM680 732h1v1h-1zM681 733h1v2h-1zM682 735h1v1h-1zM683 736h3v1h-3zM686 737h1v1h-1zM687 736h1v2h-1zM688 734h1v2h-1zM689 732h1v2h-1zM690 730h1v2h-1zM691 729h3v1h-3zM694 730h4v1h-4zM698 729h2v1h-2zM700 730h2v1h-2zM702 731h1v1h-1zM703 732h3v1h-3zM706 731h2v1h-2zM708 729h1v2h-1zM709 727h1v2h-1zM710 725h1v2h-1zM711 724h2v1h-2zM713 723h2v1h-2zM715 722h3v1h-3zM718 723h4v1h-4zM722 724h2v1h-2zM724 723h1v1h-1zM725 722h1v1h-1zM726 721h1v1h-1zM727 719h1v2h-1zM728 717h1v2h-1zM729 715h1v2h-1zM730 713h1v2h-1zM731 711h1v2h-1zM732 709h1v2h-1zM733 708h1v1h-1zM734 706h1v2h-1zM735 705h1v1h-1zM736 703h1v2h-1zM737 702h1v1h-1zM738 700h1v2h-1zM739 699h1v1h-1zM740 700h1v1h-1zM741 701h1v1h-1zM742 702h1v1h-1zM743 703h2v1h-2zM745 702h2v1h-2zM747 701h1v1h-1zM748 700h1v1h-1zM749 698h1v2h-1zM750 697h1v1h-1zM751 696h7v1h-7zM758 697h2v1h-2zM760 698h1v1h-1zM761 699h1v2h-1zM762 701h1v1h-1zM763 702h3v1h-3zM766 701h6v1h-6zM772 702h2v1h-2zM774 703h1v1h-1zM775 704h1v2h-1zM776 706h1v2h-1zM777 708h1v2h-1zM778 710h1v2h-1zM779 712h1v1h-1zM780 711h1v1h-1zM781 710h1v1h-1zM782 709h1v1h-1zM783 708h1v1h-1zM784 709h1v2h-1zM785 711h1v2h-1zM786 713h1v2h-1zM787 715h1v1h-1zM788 716h1v1h-1zM789 717h1v2h-1zM790 719h1v1h-1zM791 720h2v1h-2zM793 719h2v1h-2zM795 718h1v1h-1zM796 716h1v2h-1zM797 715h1v1h-1zM798 713h1v2h-1zM799 712h3v1h-3zM802 711h1v1h-1zM803 711h1v3h-1zM804 714h1v5h-1zM805 719h1v4h-1zM806 723h1v5h-1zM807 728h1v4h-1zM808 732h1v2h-1zM809 734h1v2h-1zM810 736h1v2h-1zM811 738h1v1h-1zM812 739h1v1h-1zM813 740h1v2h-1zM814 742h1v1h-1zM815 743h1v2h-1zM816 745h1v2h-1zM817 747h1v3h-1zM818 750h1v2h-1zM819 752h1v2h-1zM820 750h1v2h-1zM821 747h1v3h-1zM822 745h1v2h-1zM823 743h1v2h-1zM824 743h2v1h-2zM826 744h2v1h-2zM828 743h1v1h-1zM829 741h1v2h-1zM830 740h1v1h-1zM831 739h2v1h-2zM833 738h2v1h-2zM835 737h5v1h-5zM840 738h1v2h-1zM841 740h1v1h-1zM842 741h1v2h-1zM843 743h1v1h-1zM844 741h1v2h-1zM845 739h1v2h-1zM846 737h1v2h-1zM847 736h1v1h-1zM848 737h2v1h-2zM850 738h1v1h-1zM851 739h1v2h-1zM852 741h1v3h-1zM853 744h1v4h-1zM854 748h1v3h-1zM855 751h1v2h-1zM856 753h2v1h-2zM858 754h1v1h-1zM859 755h2v1h-2zM861 754h2v1h-2zM863 753h1v1h-1zM864 751h1v2h-1zM865 750h1v1h-1zM866 748h1v2h-1zM867 746h1v2h-1zM868 744h1v2h-1zM869 742h1v2h-1zM870 740h1v2h-1zM871 739h1v1h-1zM872 738h2v1h-2zM874 737h1v1h-1zM875 736h1v1h-1zM876 737h2v1h-2zM878 738h1v1h-1zM879 739h1v2h-1zM880 741h1v3h-1zM881 744h1v3h-1zM882 747h1v3h-1zM883 750h1v2h-1zM884 751h2v1h-2zM886 752h1v1h-1zM887 752h1v2h-1zM888 754h1v2h-1zM889 756h1v2h-1zM890 758h1v2h-1zM891 760h1v2h-1zM892 761h4v1h-4zM896 760h1v1h-1zM897 758h1v2h-1zM898 757h1v1h-1zM899 756h1v1h-1zM900 757h1v1h-1zM901 758h1v1h-1zM902 759h1v1h-1zM903 760h1v1h-1zM904 761h1v1h-1zM905 762h1v2h-1zM906 764h1v1h-1zM907 764h1v2h-1zM908 762h1v2h-1zM909 760h1v2h-1zM910 758h1v2h-1zM911 756h1v2h-1zM912 756h2v1h-2zM914 757h1v1h-1zM915 756h1v2h-1zM916 754h1v2h-1zM917 752h1v2h-1zM918 750h1v2h-1zM919 749h1v1h-1zM920 748h1v1h-1zM921 746h1v2h-1zM922 745h1v1h-1zM923 744h2v1h-2zM925 745h2v1h-2zM927 745h1v2h-1zM928 742h1v3h-1zM929 740h1v2h-1zM930 737h1v3h-1zM931 735h1v2h-1zM932 735h6v1h-6zM938 736h2v1h-2zM940 735h1v1h-1zM941 734h1v1h-1zM942 733h1v1h-1zM943 732h1v2h-1zM944 734h1v3h-1zM945 737h1v4h-1zM946 741h1v3h-1zM947 744h1v3h-1zM948 747h1v3h-1zM949 750h1v4h-1zM950 754h1v3h-1zM951 757h1v2h-1zM952 759h1v1h-1zM953 760h1v1h-1zM954 761h1v1h-1zM955 762h3v1h-3zM958 763h2v1h-2zM960 764h2v1h-2zM962 765h1v1h-1zM963 766h1v1h-1zM964 764h1v2h-1zM965 763h1v1h-1zM966 761h1v2h-1zM967 760h1v1h-1zM968 758h1v2h-1zM969 757h1v1h-1zM970 755h1v2h-1zM971 754h3v1h-3zM974 755h4v1h-4zM978 756h1v1h-1zM979 755h1v2h-1zM980 753h1v2h-1zM981 751h1v2h-1zM982 749h1v2h-1zM983 747h1v2h-1zM984 744h1v3h-1zM985 741h1v3h-1zM986 738h1v3h-1zM987 736h1v2h-1zM988 736h1v1h-1zM989 737h2v1h-2zM991 738h7v1h-7zM998 739h1v1h-1zM999 738h1v2h-1zM1000 735h1v3h-1zM1001 733h1v2h-1zM1002 730h1v3h-1zM1003 728h1v2h-1zM1004 728h2v1h-2zM1006 729h2v1h-2zM1008 728h1v1h-1zM1009 727h1v1h-1zM1010 726h1v1h-1zM1011 725h3v1h-3zM1014 726h1v1h-1zM1015 726h1v2h-1zM1016 728h1v2h-1zM1017 730h1v3h-1zM1018 733h1v2h-1zM1019 735h1v2h-1zM1020 735h1v1h-1zM1021 734h1v1h-1zM1022 733h1v1h-1zM1023 732h1v2h-1zM1024 734h1v2h-1zM1025 736h1v2h-1zM1026 738h1v2h-1zM1027 740h1v2h-1zM1028 741h8v1h-8zM1036 739h1v2h-1zM1037 737h1v2h-1zM1038 735h1v2h-1zM1039 734h2v1h-2zM1041 735h2v1h-2zM1043 736h1v1h-1zM1044 737h1v2h-1zM1045 739h1v2h-1zM1046 741h1v2h-1zM1047 743h7v1h-7zM1054 742h4v1h-4zM1058 743h2v1h-2zM1060 741h1v2h-1zM1061 740h1v1h-1zM1062 738h1v2h-1zM1063 737h3v1h-3zM1066 738h1v1h-1zM1067 737h1v2h-1zM1068 734h1v3h-1zM1069 731h1v3h-1zM1070 728h1v3h-1zM1071 726h1v2h-1zM1072 725h1v1h-1zM1073 724h1v1h-1zM1074 723h1v1h-1zM1075 722h3v1h-3zM1078 723h2v1h-2zM1080 724h1v1h-1zM1081 725h1v1h-1zM1082 726h1v1h-1zM1083 727h1v1h-1zM1084 728h2v1h-2zM1086 729h1v1h-1zM1087 730h1v1h-1zM1088 728h1v2h-1zM1089 726h1v2h-1zM1090 724h1v2h-1zM1091 723h1v2h-1zM1092 725h1v2h-1zM1093 727h1v2h-1zM1094 729h1v2h-1zM1095 731h1v3h-1zM1096 734h1v3h-1zM1097 737h1v3h-1zM1098 740h1v3h-1zM1099 743h1v2h-1zM1100 744h2v1h-2zM1102 743h1v1h-1zM1103 743h1v2h-1zM1104 745h1v4h-1zM1105 749h1v3h-1zM1106 752h1v4h-1zM1107 756h1v2h-1zM1108 754h1v2h-1zM1109 752h1v2h-1zM1110 750h1v2h-1zM1111 748h1v2h-1zM1112 748h2v1h-2zM1114 749h4v1h-4zM1118 750h3v1h-3zM1121 751h2v1h-2zM1123 752h3v1h-3zM1126 753h3v1h-3zM1129 752h2v1h-2zM1131 751h1v1h-1z" fill="#1e90ff" shape-rendering="crispEdges"/>
<g shape-rendering="crispEdges">
<rect x="6" y="23" width="1417" height="1" fill="#000"/>
<rect x="6" y="23" width="1" height="777" fill="#000"/>
<rect x="1422" y="23" width="1" height="777" fill="#000"/>
<rect x="6" y="799" width="1417" height="1" fill="#000"/>
<rect x="4" y="563" width="1463" height="1" fill="#fff"/>
<rect x="6" y="562" width="1417" height="1" fill="#000"/>
<rect x="6" y="564" width="1417" height="1" fill="#000"/>
<rect x="4" y="668" width="1463" height="1" fill="#fff"/>
<rect x="6" y="667" width="1417" height="1" fill="#000"/>
<rect x="6" y="669" width="1417" height="1" fill="#000"/>
<rect x="6" y="211" width="1417" height="3" fill="#ff0000"/>
<rect x="6" y="261" width="1417" height="3" fill="#ff0000"/>
<rect x="6" y="259" width="7" height="7" fill="#ff0000"/>
<rect x="9" y="262" width="1" height="1" fill="#fff"/>
<rect x="1416" y="259" width="7" height="7" fill="#ff0000"/>
<rect x="1419" y="262" width="1" height="1" fill="#fff"/>
<rect x="6" y="362" width="1417" height="3" fill="#00ff00"/>
<rect x="6" y="360" width="7" height="7" fill="#00ff00"/>
<rect x="9" y="363" width="1" height="1" fill="#fff"/>
<rect x="1416" y="360" width="7" height="7" fill="#00ff00"/>
<rect x="1419" y="363" width="1" height="1" fill="#fff"/>
<rect x="6" y="434" width="1417" height="3" fill="#0000ff"/>
<rect x="6" y="547" width="1417" height="3" fill="#0000ff"/>
<rect x="6" y="545" width="7" height="7" fill="#0000ff"/>
<rect x="9" y="548" width="1" height="1" fill="#fff"/>
<rect x="1416" y="545" width="7" height="7" fill="#0000ff"/>
<rect x="1419" y="548" width="1" height="1" fill="#fff"/>
</g>
<g shape-rendering="crispEdges">
<rect x="1423" y="31" width="2" height="1" fill="#000"/>
<rect x="1423" y="64" width="2" height="1" fill="#000"/>
<rect x="1423" y="97" width="2" height="1" fill="#000"/>
<rect x="1423" y="130" width="2" height="1" fill="#000"/>
<rect x="1423" y="163" width="2" height="1" fill="#000"/>
<rect x="1423" y="196" width="2" height="1" fill="#000"/>
<rect x="1423" y="229" width="2" height="1" fill="#000"/>
<rect x="1423" y="262" width="2" height="1" fill="#000"/>
<rect x="1423" y="295" width="2" height="1" fill="#000"/>
<rect x="1423" y="328" width="2" height="1" fill="#000"/>
<rect x="1423" y="361" width="2" height="1" fill="#000"/>
<rect x="1423" y="394" width="2" height="1" fill="#000"/>
<rect x="1423" y="427" width="2" height="1" fill="#000"/>
<rect x="1423" y="460" width="2" height="1" fill="#000"/>
<rect x="1423" y="493" width="2" height="1" fill="#000"/>
<rect x="1423" y="526" width="2" height="1" fill="#000"/>
<rect x="1423" y="559" width="2" height="1" fill="#000"/>
</g>
<text x="1428" y="34.7" font-size="10.2" fill="#000" stroke="#000" stroke-width="0.35" textLength="33.3" lengthAdjust="spacingAndGlyphs">1.02630</text>
<text x="1428" y="67.7" font-size="10.2" fill="#000" stroke="#000" stroke-width="0.35" textLength="33.3" lengthAdjust="spacingAndGlyphs">1.02170</text>
<text x="1428" y="100.7" font-size="10.2" fill="#000" stroke="#000" stroke-width="0.35" textLength="33.3" lengthAdjust="spacingAndGlyphs">1.01710</text>
<text x="1428" y="133.7" font-size="10.2" fill="#000" stroke="#000" stroke-width="0.35" textLength="33.3" lengthAdjust="spacingAndGlyphs">1.01250</text>
<text x="1428" y="166.7" font-size="10.2" fill="#000" stroke="#000" stroke-width="0.35" textLength="33.3" lengthAdjust="spacingAndGlyphs">1.00790</text>
<text x="1428" y="199.7" font-size="10.2" fill="#000" stroke="#000" stroke-width="0.35" textLength="33.3" lengthAdjust="spacingAndGlyphs">1.00330</text>
<text x="1428" y="232.7" font-size="10.2" fill="#000" stroke="#000" stroke-width="0.35" textLength="33.3" lengthAdjust="spacingAndGlyphs">0.99870</text>
<text x="1428" y="298.7" font-size="10.2" fill="#000" stroke="#000" stroke-width="0.35" textLength="33.3" lengthAdjust="spacingAndGlyphs">0.98950</text>
<text x="1428" y="331.7" font-size="10.2" fill="#000" stroke="#000" stroke-width="0.35" textLength="33.3" lengthAdjust="spacingAndGlyphs">0.98480</text>
<text x="1428" y="397.7" font-size="10.2" fill="#000" stroke="#000" stroke-width="0.35" textLength="33.3" lengthAdjust="spacingAndGlyphs">0.97560</text>
<text x="1428" y="430.7" font-size="10.2" fill="#000" stroke="#000" stroke-width="0.35" textLength="33.3" lengthAdjust="spacingAndGlyphs">0.97100</text>
<text x="1428" y="463.7" font-size="10.2" fill="#000" stroke="#000" stroke-width="0.35" textLength="33.3" lengthAdjust="spacingAndGlyphs">0.96640</text>
<text x="1428" y="496.7" font-size="10.2" fill="#000" stroke="#000" stroke-width="0.35" textLength="33.3" lengthAdjust="spacingAndGlyphs">0.96180</text>
<text x="1428" y="529.7" font-size="10.2" fill="#000" stroke="#000" stroke-width="0.35" textLength="33.3" lengthAdjust="spacingAndGlyphs">0.95720</text>
<text x="1428" y="562.7" font-size="10.2" fill="#000" stroke="#000" stroke-width="0.35" textLength="33.3" lengthAdjust="spacingAndGlyphs">0.95260</text>
<g shape-rendering="crispEdges">
<rect x="1424" y="206" width="41" height="11" fill="#ff0000"/>
<rect x="1423" y="212" width="1" height="1" fill="#ff0000"/>
<rect x="1424" y="256" width="41" height="11" fill="#ff0000"/>
<rect x="1423" y="262" width="1" height="1" fill="#ff0000"/>
<rect x="1424" y="357" width="41" height="11" fill="#00ff00"/>
<rect x="1423" y="363" width="1" height="1" fill="#00ff00"/>
<rect x="1424" y="429" width="41" height="11" fill="#0000ff"/>
<rect x="1423" y="435" width="1" height="1" fill="#0000ff"/>
<rect x="1424" y="542" width="41" height="11" fill="#0000ff"/>
<rect x="1423" y="548" width="1" height="1" fill="#0000ff"/>
<rect x="1424" y="414" width="41" height="11" fill="#000"/>
</g>
<text x="1428" y="423.2" font-size="10.2" fill="#fff" stroke="#fff" stroke-width="0" textLength="33.3" lengthAdjust="spacingAndGlyphs">0.97221</text>
<text x="1428" y="215" font-size="10.2" fill="#fff" stroke="#fff" stroke-width="0" textLength="33.3" lengthAdjust="spacingAndGlyphs">1.00106</text>
<text x="1428" y="265" font-size="10.2" fill="#fff" stroke="#fff" stroke-width="0" textLength="33.3" lengthAdjust="spacingAndGlyphs">0.99406</text>
<text x="1428" y="366" font-size="10.2" fill="#fff" stroke="#fff" stroke-width="0" textLength="33.3" lengthAdjust="spacingAndGlyphs">0.98004</text>
<text x="1428" y="438" font-size="10.2" fill="#fff" stroke="#fff" stroke-width="0" textLength="33.3" lengthAdjust="spacingAndGlyphs">0.97001</text>
<text x="1428" y="551" font-size="10.2" fill="#fff" stroke="#fff" stroke-width="0" textLength="33.3" lengthAdjust="spacingAndGlyphs">0.95425</text>
<path d="M10 30 h7 l-3.5 4.2 z" fill="#000"/>
<text x="22.5" y="34.7" font-size="10.2" fill="#000" stroke="#000" stroke-width="0.35" textLength="67.4" lengthAdjust="spacingAndGlyphs">USDCHF-,Daily</text>
<text x="96.2" y="34.7" font-size="10.2" fill="#000" stroke="#000" stroke-width="0.35" textLength="32.6" lengthAdjust="spacingAndGlyphs">0.97140</text>
<text x="132.3" y="34.7" font-size="10.2" fill="#000" stroke="#000" stroke-width="0.35" textLength="32.6" lengthAdjust="spacingAndGlyphs">0.97232</text>
<text x="168.4" y="34.7" font-size="10.2" fill="#000" stroke="#000" stroke-width="0.35" textLength="32.6" lengthAdjust="spacingAndGlyphs">0.97136</text>
<text x="204.3" y="34.7" font-size="10.2" fill="#000" stroke="#000" stroke-width="0.35" textLength="32.6" lengthAdjust="spacingAndGlyphs">0.97221</text>
<text x="11" y="577" font-size="10.2" fill="#000" stroke="#000" stroke-width="0.35" textLength="154" lengthAdjust="spacingAndGlyphs">MACD(12,26,9) -0.004145 -0.002287</text>
<text x="11" y="682" font-size="10.2" fill="#000" stroke="#000" stroke-width="0.35" textLength="68" lengthAdjust="spacingAndGlyphs">RSI(14) 36.7499</text>
<path d="M1133 24 L1142 24 L1137.5 29 Z" fill="#c0c0c0"/>
<text x="1426" y="575" font-size="10.2" fill="#000" stroke="#000" stroke-width="0.35" textLength="38" lengthAdjust="spacingAndGlyphs">0.006286</text>
<text x="1426" y="615" font-size="10.2" fill="#000" stroke="#000" stroke-width="0.35" textLength="18" lengthAdjust="spacingAndGlyphs">0.00</text>
<text x="1426" y="664" font-size="10.2" fill="#000" stroke="#000" stroke-width="0.35" textLength="36.2" lengthAdjust="spacingAndGlyphs">-0.00762</text>
<text x="1426.3" y="680.2" font-size="10.2" fill="#000" stroke="#000" stroke-width="0.35" textLength="14.3" lengthAdjust="spacingAndGlyphs">100</text>
<text x="1425.3" y="713" font-size="10.2" fill="#000" stroke="#000" stroke-width="0.35" textLength="9.6" lengthAdjust="spacingAndGlyphs">70</text>
<text x="1425.3" y="764" font-size="10.2" fill="#000" stroke="#000" stroke-width="0.35" textLength="9.6" lengthAdjust="spacingAndGlyphs">30</text>
<text x="1426" y="796" font-size="10.2" fill="#000" stroke="#000" stroke-width="0.35">0</text>
<g shape-rendering="crispEdges">
<rect x="1423" y="611" width="1" height="1" fill="#000"/>
<line x1="7" y1="709.5" x2="1422" y2="709.5" stroke="#c0c0c0" stroke-width="1" stroke-dasharray="3,3"/>
<line x1="7" y1="760.5" x2="1422" y2="760.5" stroke="#c0c0c0" stroke-width="1" stroke-dasharray="3,3"/>
<rect x="7" y="800" width="1" height="3" fill="#000"/>
<rect x="71" y="800" width="1" height="3" fill="#000"/>
<rect x="135" y="800" width="1" height="3" fill="#000"/>
<rect x="199" y="800" width="1" height="3" fill="#000"/>
<rect x="263" y="800" width="1" height="3" fill="#000"/>
<rect x="327" y="800" width="1" height="3" fill="#000"/>
<rect x="391" y="800" width="1" height="3" fill="#000"/>
<rect x="455" y="800" width="1" height="3" fill="#000"/>
<rect x="519" y="800" width="1" height="3" fill="#000"/>
<rect x="583" y="800" width="1" height="3" fill="#000"/>
<rect x="647" y="800" width="1" height="3" fill="#000"/>
<rect x="711" y="800" width="1" height="3" fill="#000"/>
<rect x="775" y="800" width="1" height="3" fill="#000"/>
<rect x="839" y="800" width="1" height="3" fill="#000"/>
<rect x="903" y="800" width="1" height="3" fill="#000"/>
<rect x="967" y="800" width="1" height="3" fill="#000"/>
<rect x="1031" y="800" width="1" height="3" fill="#000"/>
<rect x="1095" y="800" width="1" height="3" fill="#000"/>
</g>
<text x="6.3" y="812" font-size="10.2" fill="#000" stroke="#000" stroke-width="0.35" textLength="51.8" lengthAdjust="spacingAndGlyphs">17 Sep 2018</text>
<text x="70.3" y="812" font-size="10.2" fill="#000" stroke="#000" stroke-width="0.35" textLength="45.6" lengthAdjust="spacingAndGlyphs">5 Oct 2018</text>
<text x="134.3" y="812" font-size="10.2" fill="#000" stroke="#000" stroke-width="0.35" textLength="50.7" lengthAdjust="spacingAndGlyphs">24 Oct 2018</text>
<text x="198.3" y="812" font-size="10.2" fill="#000" stroke="#000" stroke-width="0.35" textLength="52.9" lengthAdjust="spacingAndGlyphs">12 Nov 2018</text>
<text x="262.3" y="812" font-size="10.2" fill="#000" stroke="#000" stroke-width="0.35" textLength="53.1" lengthAdjust="spacingAndGlyphs">30 Nov 2018</text>
<text x="326.3" y="812" font-size="10.2" fill="#000" stroke="#000" stroke-width="0.35" textLength="50.9" lengthAdjust="spacingAndGlyphs">19 Dec 2018</text>
<text x="390.3" y="812" font-size="10.2" fill="#000" stroke="#000" stroke-width="0.35" textLength="45.5" lengthAdjust="spacingAndGlyphs">7 Jan 2019</text>
<text x="454.3" y="812" font-size="10.2" fill="#000" stroke="#000" stroke-width="0.35" textLength="49.6" lengthAdjust="spacingAndGlyphs">25 Jan 2019</text>
<text x="518.3" y="812" font-size="10.2" fill="#000" stroke="#000" stroke-width="0.35" textLength="51" lengthAdjust="spacingAndGlyphs">13 Feb 2019</text>
<text x="582.3" y="812" font-size="10.2" fill="#000" stroke="#000" stroke-width="0.35" textLength="46.4" lengthAdjust="spacingAndGlyphs">4 Mar 2019</text>
<text x="646.3" y="812" font-size="10.2" fill="#000" stroke="#000" stroke-width="0.35" textLength="51" lengthAdjust="spacingAndGlyphs">22 Mar 2019</text>
<text x="710.3" y="812" font-size="10.2" fill="#000" stroke="#000" stroke-width="0.35" textLength="49.7" lengthAdjust="spacingAndGlyphs">10 Apr 2019</text>
<text x="774.3" y="812" font-size="10.2" fill="#000" stroke="#000" stroke-width="0.35" textLength="50.3" lengthAdjust="spacingAndGlyphs">30 Apr 2019</text>
<text x="838.3" y="812" font-size="10.2" fill="#000" stroke="#000" stroke-width="0.35" textLength="54.5" lengthAdjust="spacingAndGlyphs">19 May 2019</text>
<text x="902.3" y="812" font-size="10.2" fill="#000" stroke="#000" stroke-width="0.35" textLength="44.9" lengthAdjust="spacingAndGlyphs">6 Jun 2019</text>
<text x="966.3" y="812" font-size="10.2" fill="#000" stroke="#000" stroke-width="0.35" textLength="49.7" lengthAdjust="spacingAndGlyphs">25 Jun 2019</text>
<text x="1030.3" y="812" font-size="10.2" fill="#000" stroke="#000" stroke-width="0.35" textLength="46.4" lengthAdjust="spacingAndGlyphs">14 Jul 2019</text>
<text x="1094.3" y="812" font-size="10.2" fill="#000" stroke="#000" stroke-width="0.35" textLength="47.2" lengthAdjust="spacingAndGlyphs">1 Aug 2019</text>
</svg>
<div id="toolbar"><div class="sep" style="left:32px"></div><div class="sel"></div><div id="tfH4" class="tf" style="left:9.8px;letter-spacing:-0.425px;">H4</div><div id="tfD1" class="tf" style="left:38.9px;letter-spacing:-1.325px;">D1</div><div id="tfW1" class="tf" style="left:66.1px;letter-spacing:-0.912px;">W1</div><div id="tfMN" class="tf" style="left:93px;letter-spacing:-1.059px;">MN</div><div class="sep" style="left:115px"></div><div class="sep" style="left:116px;background:#fbfbfb"></div></div>
<div id="tabs"><div class="tab active" style="left:224px;width:108px"></div><div id="tab0" class="tab" style="left:19.5px;letter-spacing:-0.261px;">EURUSD-,Daily</div><div id="tab1" class="tab" style="left:126.3px;letter-spacing:-0.086px;">AUDUSD-,Daily</div><div id="tab2" class="tab" style="left:236.4px;letter-spacing:-0.246px;color:#000;">USDCHF-,Daily</div><div id="tab3" class="tab" style="left:343.5px;letter-spacing:-0.178px;">USDCAD-,Daily</div><div id="tab4" class="tab" style="left:452.6px;letter-spacing:-0.052px;">USDCNH-,Daily</div><div id="tab5" class="tab" style="left:563.4px;letter-spacing:-0.253px;">EURCHF-,Weekly</div><div id="tab6" class="tab" style="left:684.2px;letter-spacing:0.015px;">XAUUSD-,Weekly</div><div id="tab7" class="tab" style="left:807.3px;letter-spacing:-0.383px;">GBPUSD-,H1</div><div id="tab8" class="tab" style="left:903.4px;letter-spacing:0.092px;">UKOil-,H4</div><div id="tab9" class="tab" style="left:982.4px;letter-spacing:-0.008px;">USDX-,Weekly</div><div class="bar" style="left:116px"></div><div class="bar" style="left:440px"></div><div class="bar" style="left:552px"></div><div class="bar" style="left:672px"></div><div class="bar" style="left:796px"></div><div class="bar" style="left:892px"></div><div class="bar" style="left:972px"></div><div class="bar" style="left:1076px"></div><div style="position:absolute;left:2px;top:0;width:1px;height:18px;background:#a0a0a0"></div><div style="position:absolute;left:3px;top:0;width:1px;height:18px;background:#707070"></div><div style="position:absolute;left:0;top:18px;width:4px;height:1px;background:#909090"></div><div style="position:absolute;left:0;top:19px;width:1467px;height:1px;background:#fafafa"></div><div style="position:absolute;left:1438px;top:5px;width:0;height:0;border-top:3.5px solid transparent;border-bottom:3.5px solid transparent;border-right:3.5px solid #8c8c8c"></div><div style="position:absolute;left:1457px;top:5px;width:0;height:0;border-top:3.5px solid transparent;border-bottom:3.5px solid transparent;border-left:3.5px solid #8c8c8c"></div></div>
</body></html>
